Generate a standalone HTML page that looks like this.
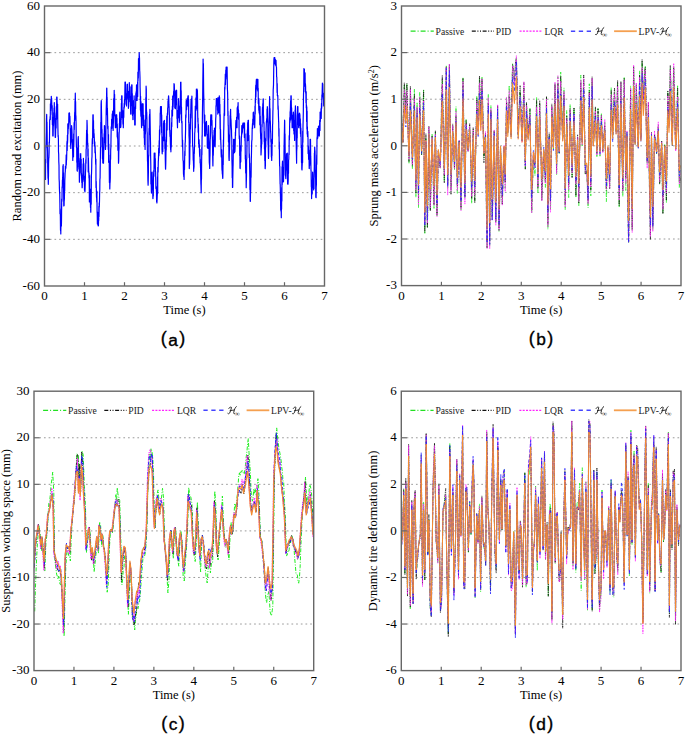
<!DOCTYPE html>
<html><head><meta charset="utf-8"><style>
html,body{margin:0;padding:0;background:#fff;width:685px;height:734px;overflow:hidden}
svg{display:block}
.tk{font-family:"Liberation Serif",serif;font-size:12.5px;fill:#000}
.tn{font-size:13px}
.lg{font-family:"Liberation Serif",serif;font-size:9.6px;fill:#222}
.lab{font-family:"Liberation Sans",sans-serif;font-size:18px;fill:#000;stroke:#000;stroke-width:0.35px;letter-spacing:1.4px}
</style></head><body>
<svg width="685" height="734" viewBox="0 0 685 734">
<line x1="49.80" y1="239.33" x2="324.50" y2="239.33" stroke="#9a9a9a" stroke-width="1" stroke-dasharray="1.7 2.97"/>
<line x1="49.80" y1="192.67" x2="324.50" y2="192.67" stroke="#9a9a9a" stroke-width="1" stroke-dasharray="1.7 2.97"/>
<line x1="49.80" y1="146.00" x2="324.50" y2="146.00" stroke="#9a9a9a" stroke-width="1" stroke-dasharray="1.7 2.97"/>
<line x1="49.80" y1="99.33" x2="324.50" y2="99.33" stroke="#9a9a9a" stroke-width="1" stroke-dasharray="1.7 2.97"/>
<line x1="49.80" y1="52.67" x2="324.50" y2="52.67" stroke="#9a9a9a" stroke-width="1" stroke-dasharray="1.7 2.97"/>
<line x1="406.80" y1="239.00" x2="681.00" y2="239.00" stroke="#9a9a9a" stroke-width="1" stroke-dasharray="1.7 2.97"/>
<line x1="406.80" y1="192.40" x2="681.00" y2="192.40" stroke="#9a9a9a" stroke-width="1" stroke-dasharray="1.7 2.97"/>
<line x1="406.80" y1="145.80" x2="681.00" y2="145.80" stroke="#9a9a9a" stroke-width="1" stroke-dasharray="1.7 2.97"/>
<line x1="406.80" y1="99.20" x2="681.00" y2="99.20" stroke="#9a9a9a" stroke-width="1" stroke-dasharray="1.7 2.97"/>
<line x1="406.80" y1="52.60" x2="681.00" y2="52.60" stroke="#9a9a9a" stroke-width="1" stroke-dasharray="1.7 2.97"/>
<line x1="39.30" y1="624.03" x2="313.70" y2="624.03" stroke="#9a9a9a" stroke-width="1" stroke-dasharray="1.7 2.97"/>
<line x1="39.30" y1="577.47" x2="313.70" y2="577.47" stroke="#9a9a9a" stroke-width="1" stroke-dasharray="1.7 2.97"/>
<line x1="39.30" y1="530.90" x2="313.70" y2="530.90" stroke="#9a9a9a" stroke-width="1" stroke-dasharray="1.7 2.97"/>
<line x1="39.30" y1="484.33" x2="313.70" y2="484.33" stroke="#9a9a9a" stroke-width="1" stroke-dasharray="1.7 2.97"/>
<line x1="39.30" y1="437.77" x2="313.70" y2="437.77" stroke="#9a9a9a" stroke-width="1" stroke-dasharray="1.7 2.97"/>
<line x1="406.60" y1="624.03" x2="681.00" y2="624.03" stroke="#9a9a9a" stroke-width="1" stroke-dasharray="1.7 2.97"/>
<line x1="406.60" y1="577.47" x2="681.00" y2="577.47" stroke="#9a9a9a" stroke-width="1" stroke-dasharray="1.7 2.97"/>
<line x1="406.60" y1="530.90" x2="681.00" y2="530.90" stroke="#9a9a9a" stroke-width="1" stroke-dasharray="1.7 2.97"/>
<line x1="406.60" y1="484.33" x2="681.00" y2="484.33" stroke="#9a9a9a" stroke-width="1" stroke-dasharray="1.7 2.97"/>
<line x1="406.60" y1="437.77" x2="681.00" y2="437.77" stroke="#9a9a9a" stroke-width="1" stroke-dasharray="1.7 2.97"/>
<defs><clipPath id="cpa"><rect x="44.5" y="6.0" width="280.0" height="280.0"/></clipPath><clipPath id="cpb"><rect x="401.5" y="6.0" width="279.5" height="279.6"/></clipPath><clipPath id="cpc"><rect x="34.0" y="391.2" width="279.7" height="279.40000000000003"/></clipPath><clipPath id="cpd"><rect x="401.3" y="391.2" width="279.7" height="279.40000000000003"/></clipPath></defs>
<g clip-path="url(#cpa)"><polyline points="44.0,154.2 44.1,163.4 44.3,162.8 44.4,158.2 44.6,164.9 44.7,164.8 44.9,174.1 45.0,171.0 45.2,179.5 45.3,167.3 45.5,179.5 45.6,159.3 45.8,163.1 45.9,147.4 46.1,142.4 46.2,138.5 46.4,131.8 46.5,119.3 46.7,114.4 46.8,123.1 47.0,122.0 47.1,130.4 47.3,147.7 47.4,146.6 47.6,151.9 47.7,166.4 47.9,173.5 48.0,178.2 48.2,176.0 48.3,184.3 48.5,174.4 48.6,163.0 48.8,157.7 48.9,158.1 49.1,152.3 49.2,142.2 49.4,143.1 49.5,137.9 49.7,119.6 49.8,119.6 50.0,119.6 50.1,116.6 50.3,119.6 50.4,103.9 50.6,110.6 50.7,104.3 50.9,99.5 51.0,107.9 51.2,103.8 51.3,96.3 51.5,107.1 51.6,98.0 51.8,104.4 51.9,106.6 52.1,114.4 52.2,105.7 52.4,124.8 52.5,123.0 52.7,117.7 52.8,135.9 53.0,131.3 53.1,135.9 53.3,123.5 53.4,126.0 53.6,122.0 53.7,112.7 53.9,118.9 54.0,108.1 54.2,110.6 54.3,102.6 54.5,115.0 54.6,112.7 54.8,116.0 54.9,125.0 55.1,130.8 55.2,137.3 55.4,124.3 55.5,137.3 55.7,129.2 55.8,126.8 56.0,118.3 56.1,128.1 56.3,106.7 56.4,119.5 56.6,113.1 56.7,97.1 56.9,104.6 57.0,97.1 57.2,106.1 57.3,112.5 57.5,119.1 57.6,104.0 57.8,122.6 57.9,128.1 58.1,136.8 58.2,135.1 58.4,138.9 58.5,151.8 58.7,154.3 58.8,161.6 59.0,165.3 59.1,178.7 59.3,182.2 59.4,188.0 59.6,193.3 59.7,192.6 59.9,203.2 60.0,213.7 60.2,208.8 60.3,210.8 60.5,230.2 60.6,224.7 60.8,234.0 60.9,227.1 61.1,225.6 61.2,214.5 61.4,226.0 61.5,220.8 61.7,199.1 61.8,201.8 62.0,200.1 62.1,186.8 62.3,188.1 62.4,180.4 62.6,179.3 62.7,177.4 62.9,166.0 63.0,168.2 63.2,164.7 63.3,180.2 63.5,172.9 63.6,190.5 63.8,205.9 63.9,199.4 64.1,205.6 64.2,197.9 64.4,199.9 64.5,191.5 64.7,190.8 64.8,180.4 65.0,176.6 65.1,172.9 65.3,171.2 65.4,166.0 65.6,168.9 65.7,167.9 65.9,167.9 66.0,162.9 66.2,154.9 66.3,165.1 66.5,158.1 66.6,160.0 66.8,151.4 66.9,143.5 67.1,141.0 67.2,150.4 67.4,135.2 67.5,143.1 67.7,139.1 67.8,123.9 68.0,133.9 68.1,128.2 68.3,128.9 68.4,126.4 68.6,123.8 68.7,122.9 68.9,113.2 69.0,122.1 69.2,113.9 69.3,119.9 69.5,112.9 69.6,119.4 69.8,116.1 69.9,116.5 70.1,123.7 70.2,128.8 70.4,133.2 70.5,142.0 70.7,145.9 70.8,148.5 71.0,141.5 71.1,143.0 71.3,128.6 71.4,141.2 71.6,125.7 71.7,126.7 71.9,129.3 72.0,131.9 72.2,141.4 72.3,139.6 72.5,144.2 72.6,149.7 72.8,160.4 72.9,155.1 73.1,149.9 73.2,153.1 73.4,139.3 73.5,156.8 73.7,133.9 73.8,145.1 74.0,133.9 74.1,122.5 74.3,129.5 74.4,123.8 74.6,117.1 74.7,112.5 74.9,111.5 75.0,101.6 75.2,100.2 75.3,93.2 75.5,104.9 75.6,101.5 75.8,120.6 75.9,115.6 76.1,123.8 76.2,136.6 76.4,146.6 76.5,147.3 76.7,148.0 76.8,162.2 77.0,159.2 77.1,170.4 77.3,171.2 77.4,154.7 77.6,167.0 77.7,149.2 77.9,151.2 78.0,139.7 78.2,137.2 78.3,136.6 78.5,149.6 78.6,156.6 78.8,153.7 78.9,168.9 79.1,164.4 79.2,166.4 79.4,182.2 79.5,179.3 79.7,173.3 79.8,175.2 80.0,171.6 80.1,161.6 80.3,158.3 80.4,161.7 80.6,156.2 80.7,153.5 80.9,162.2 81.0,166.8 81.2,159.3 81.3,172.9 81.5,173.7 81.6,177.3 81.8,182.6 81.9,178.3 82.1,187.7 82.2,187.7 82.4,182.4 82.5,175.2 82.7,180.0 82.8,177.2 83.0,169.7 83.1,163.8 83.3,172.5 83.4,158.4 83.6,168.2 83.7,163.0 83.9,164.7 84.0,181.6 84.2,175.9 84.3,176.1 84.5,190.3 84.6,184.9 84.8,185.2 84.9,191.9 85.1,188.6 85.2,184.6 85.4,176.7 85.5,172.1 85.7,168.9 85.8,159.7 86.0,163.2 86.1,149.5 86.3,148.6 86.4,143.2 86.6,130.3 86.7,130.2 86.9,134.5 87.0,120.3 87.2,125.7 87.3,133.8 87.5,133.8 87.6,144.9 87.8,143.1 87.9,155.9 88.1,148.8 88.2,171.9 88.4,157.9 88.5,162.4 88.7,171.6 88.8,171.4 89.0,178.3 89.1,173.2 89.3,187.2 89.4,201.9 89.6,175.5 89.7,198.0 89.9,189.5 90.0,199.2 90.2,189.1 90.3,200.2 90.5,207.6 90.6,205.9 90.8,212.2 90.9,199.8 91.1,202.6 91.2,204.2 91.4,174.1 91.5,174.4 91.7,167.6 91.8,159.3 92.0,156.8 92.1,146.1 92.3,138.6 92.4,139.1 92.6,143.7 92.7,127.7 92.9,114.8 93.0,121.0 93.2,114.8 93.3,126.8 93.5,120.6 93.6,137.3 93.8,129.3 93.9,136.0 94.1,133.5 94.2,136.5 94.4,139.9 94.5,145.9 94.7,142.3 94.8,141.9 95.0,152.8 95.1,145.7 95.3,151.5 95.4,152.3 95.6,160.4 95.7,164.2 95.9,159.2 96.0,187.6 96.2,181.4 96.3,187.1 96.5,197.2 96.6,195.9 96.8,201.9 96.9,191.0 97.1,212.3 97.2,213.4 97.4,224.1 97.5,223.9 97.7,223.5 97.8,212.3 98.0,213.2 98.1,225.8 98.3,221.1 98.4,225.8 98.6,219.3 98.7,220.8 98.9,206.3 99.0,216.6 99.2,202.8 99.3,207.0 99.5,200.6 99.6,193.7 99.8,189.6 99.9,179.7 100.1,177.7 100.2,167.4 100.4,156.5 100.5,147.0 100.7,147.1 100.8,122.4 101.0,122.3 101.1,104.0 101.3,100.5 101.4,107.1 101.6,118.3 101.7,123.9 101.9,132.9 102.0,129.3 102.2,143.6 102.3,148.6 102.5,159.1 102.6,137.7 102.8,162.9 102.9,150.5 103.1,163.0 103.2,156.0 103.4,163.2 103.5,163.2 103.7,151.6 103.8,150.0 104.0,143.6 104.1,133.7 104.3,137.3 104.4,125.7 104.6,126.0 104.7,132.9 104.9,133.4 105.0,142.3 105.2,139.0 105.3,142.1 105.5,149.5 105.6,146.4 105.8,142.1 105.9,129.0 106.1,119.1 106.2,110.0 106.4,102.8 106.5,100.2 106.7,88.2 106.8,88.1 107.0,102.7 107.1,97.3 107.3,114.7 107.4,108.2 107.6,117.9 107.7,128.3 107.9,129.1 108.0,126.1 108.2,144.6 108.3,149.6 108.5,134.6 108.6,162.3 108.8,144.0 108.9,158.5 109.1,161.4 109.2,161.3 109.4,182.4 109.5,177.3 109.7,180.5 109.8,188.9 110.0,181.4 110.1,182.4 110.3,177.4 110.4,155.1 110.6,159.4 110.7,149.6 110.9,147.0 111.0,139.2 111.2,127.4 111.3,126.5 111.5,128.6 111.6,119.5 111.8,119.2 111.9,122.1 112.1,119.8 112.2,113.9 112.4,116.8 112.5,122.6 112.7,111.2 112.8,128.2 113.0,119.3 113.1,130.5 113.3,124.0 113.4,122.7 113.6,114.2 113.7,98.6 113.9,113.6 114.0,104.9 114.2,90.3 114.3,98.6 114.5,99.2 114.6,94.4 114.8,115.6 114.9,116.0 115.1,117.0 115.2,122.0 115.4,127.7 115.5,115.8 115.7,127.7 115.8,125.7 116.0,114.8 116.1,127.2 116.3,114.8 116.4,114.8 116.6,120.7 116.7,114.8 116.9,127.2 117.0,118.4 117.2,136.7 117.3,124.1 117.5,138.3 117.6,132.1 117.8,141.0 117.9,150.3 118.1,146.9 118.2,150.5 118.4,150.0 118.5,163.2 118.7,160.8 118.8,151.8 119.0,148.8 119.1,134.2 119.3,130.6 119.4,123.5 119.6,122.8 119.7,113.4 119.9,112.1 120.0,122.1 120.2,120.6 120.3,120.8 120.5,127.6 120.6,120.9 120.8,127.1 120.9,125.7 121.1,118.6 121.2,119.8 121.4,103.3 121.5,117.5 121.7,95.8 121.8,101.3 122.0,95.8 122.1,109.0 122.3,110.9 122.4,114.9 122.6,117.9 122.7,110.5 122.9,123.1 123.0,124.1 123.2,120.2 123.3,127.7 123.5,117.6 123.6,117.9 123.8,117.2 123.9,107.2 124.1,108.2 124.2,103.4 124.4,107.0 124.5,99.5 124.7,98.4 124.8,96.1 125.0,82.1 125.1,85.0 125.3,85.7 125.4,82.1 125.6,91.3 125.7,99.2 125.9,100.7 126.0,104.2 126.2,101.8 126.3,103.2 126.5,105.9 126.6,93.6 126.8,98.1 126.9,97.0 127.1,84.8 127.2,84.3 127.4,84.2 127.5,89.8 127.7,91.7 127.8,94.0 128.0,99.8 128.1,91.4 128.3,103.2 128.4,108.3 128.6,99.6 128.7,96.7 128.9,93.8 129.0,91.7 129.2,91.5 129.3,82.6 129.5,87.7 129.6,92.8 129.8,86.2 129.9,101.7 130.1,96.4 130.2,97.2 130.4,107.0 130.5,105.2 130.7,114.1 130.8,100.0 131.0,114.1 131.1,99.5 131.3,87.1 131.4,100.9 131.6,94.0 131.7,84.9 131.9,98.0 132.0,84.9 132.2,105.7 132.3,93.5 132.5,115.4 132.6,101.6 132.8,109.2 132.9,119.6 133.1,119.6 133.2,103.4 133.4,114.0 133.5,102.0 133.7,100.4 133.8,101.5 134.0,105.7 134.1,95.8 134.3,112.7 134.4,109.2 134.6,107.0 134.7,125.0 134.9,125.0 135.0,115.6 135.2,125.0 135.3,107.8 135.5,107.7 135.6,108.7 135.8,94.6 135.9,93.4 136.1,92.6 136.2,91.5 136.4,92.6 136.5,84.9 136.7,88.8 136.8,100.5 137.0,89.5 137.1,100.5 137.3,89.8 137.4,94.8 137.6,82.1 137.7,96.4 137.9,72.2 138.0,81.1 138.2,72.0 138.3,77.9 138.5,58.5 138.6,69.5 138.8,60.6 138.9,64.2 139.1,58.8 139.2,52.6 139.4,56.8 139.5,58.1 139.7,70.7 139.8,71.8 140.0,77.5 140.1,87.3 140.3,94.3 140.4,109.9 140.6,96.3 140.7,111.0 140.9,116.2 141.0,101.7 141.2,114.4 141.3,117.3 141.5,126.8 141.6,127.7 141.8,119.0 141.9,125.8 142.1,111.7 142.2,103.9 142.4,103.9 142.5,114.7 142.7,103.9 142.8,103.9 143.0,118.6 143.1,103.9 143.3,125.5 143.4,121.2 143.6,115.2 143.7,119.3 143.9,130.8 144.0,120.0 144.2,138.1 144.3,125.7 144.5,144.4 144.6,137.2 144.8,141.6 144.9,141.7 145.1,149.5 145.2,129.0 145.4,134.0 145.5,119.5 145.7,118.9 145.8,97.7 146.0,109.2 146.1,86.2 146.3,89.9 146.4,108.6 146.6,112.8 146.7,112.1 146.9,119.1 147.0,131.0 147.2,133.0 147.3,145.0 147.5,161.2 147.6,160.8 147.8,171.6 147.9,180.2 148.1,185.2 148.2,182.3 148.4,172.1 148.5,158.4 148.7,154.7 148.8,156.1 149.0,134.0 149.1,128.3 149.3,134.5 149.4,117.2 149.6,114.4 149.7,120.2 149.9,109.4 150.0,114.4 150.2,126.4 150.3,134.0 150.5,142.5 150.6,154.8 150.8,164.4 150.9,184.1 151.1,180.2 151.2,184.3 151.4,193.1 151.5,174.0 151.7,189.2 151.8,179.6 152.0,173.5 152.1,172.1 152.3,181.7 152.4,182.8 152.6,190.1 152.7,189.0 152.9,198.6 153.0,198.6 153.2,183.8 153.3,195.9 153.5,178.0 153.6,174.6 153.8,170.4 153.9,176.2 154.1,163.0 154.2,153.0 154.4,163.1 154.5,155.1 154.7,156.1 154.8,153.0 155.0,153.0 155.1,168.3 155.3,158.6 155.4,171.6 155.6,171.6 155.7,177.3 155.9,188.6 156.0,187.7 156.2,186.5 156.3,188.7 156.5,193.4 156.6,201.8 156.8,197.4 156.9,202.9 157.1,200.0 157.2,196.7 157.4,193.0 157.5,176.8 157.7,193.2 157.8,167.3 158.0,171.4 158.1,172.0 158.3,161.1 158.4,160.8 158.6,154.1 158.7,148.2 158.9,155.6 159.0,154.0 159.2,140.5 159.3,152.7 159.5,129.8 159.6,135.1 159.8,133.4 159.9,125.8 160.1,126.5 160.2,113.3 160.4,112.4 160.5,106.7 160.7,110.4 160.8,107.8 161.0,106.7 161.1,113.5 161.3,106.7 161.4,106.7 161.6,132.4 161.7,114.9 161.9,131.7 162.0,149.4 162.2,153.8 162.3,145.4 162.5,145.1 162.6,143.9 162.8,151.4 162.9,137.5 163.1,136.9 163.2,137.4 163.4,140.0 163.5,123.1 163.7,132.3 163.8,121.0 164.0,140.7 164.1,128.4 164.3,126.3 164.4,120.3 164.6,132.8 164.7,123.3 164.9,148.4 165.0,139.7 165.2,152.7 165.3,160.1 165.5,168.4 165.6,169.2 165.8,163.0 165.9,155.9 166.1,145.4 166.2,150.3 166.4,137.0 166.5,141.5 166.7,122.9 166.8,116.1 167.0,125.5 167.1,130.1 167.3,115.2 167.4,113.1 167.6,114.6 167.7,107.9 167.9,107.8 168.0,100.8 168.2,104.5 168.3,101.5 168.5,96.4 168.6,95.8 168.8,99.3 168.9,104.9 169.1,106.8 169.2,111.1 169.4,115.2 169.5,129.7 169.7,118.1 169.8,132.4 170.0,136.4 170.1,130.1 170.3,138.4 170.4,143.7 170.6,149.5 170.7,145.1 170.9,151.8 171.0,148.4 171.2,138.1 171.3,147.0 171.5,129.8 171.6,122.5 171.8,126.5 171.9,110.2 172.1,114.1 172.2,113.7 172.4,106.0 172.5,115.9 172.7,96.1 172.8,109.5 173.0,102.5 173.1,106.7 173.3,99.3 173.4,95.9 173.6,93.6 173.7,91.0 173.9,95.1 174.0,83.5 174.2,90.0 174.3,84.4 174.5,92.1 174.6,91.0 174.8,107.9 174.9,91.6 175.1,107.1 175.2,105.5 175.4,108.7 175.5,105.5 175.7,104.0 175.8,104.2 176.0,90.3 176.1,99.2 176.3,90.3 176.4,96.4 176.6,90.3 176.7,100.2 176.9,107.2 177.0,118.5 177.2,116.7 177.3,122.8 177.5,127.7 177.6,116.1 177.8,112.1 177.9,116.8 178.1,110.4 178.2,115.3 178.4,112.6 178.5,98.5 178.7,117.8 178.8,105.7 179.0,111.1 179.1,110.8 179.3,122.3 179.4,112.1 179.6,118.8 179.7,120.4 179.9,106.9 180.0,114.2 180.2,101.0 180.3,101.1 180.5,93.9 180.6,82.3 180.8,92.6 180.9,82.1 181.1,103.7 181.2,90.7 181.4,114.1 181.5,107.2 181.7,122.7 181.8,121.4 182.0,121.4 182.1,133.1 182.3,140.7 182.4,146.7 182.6,140.1 182.7,145.8 182.9,156.1 183.0,160.5 183.2,160.6 183.3,163.4 183.5,174.3 183.6,174.2 183.8,176.8 183.9,171.0 184.1,179.5 184.2,170.2 184.4,161.0 184.5,169.4 184.7,155.3 184.8,151.2 185.0,155.5 185.1,143.7 185.3,141.7 185.4,136.9 185.6,129.0 185.7,114.9 185.9,117.6 186.0,116.1 186.2,100.5 186.3,106.9 186.5,104.7 186.6,109.7 186.8,105.9 186.9,104.4 187.1,98.5 187.2,105.3 187.4,99.8 187.5,98.0 187.7,105.8 187.8,97.8 188.0,95.8 188.1,105.3 188.3,95.8 188.4,103.9 188.6,99.4 188.7,122.4 188.9,122.2 189.0,135.8 189.2,139.3 189.3,168.6 189.5,161.0 189.6,164.5 189.8,157.6 189.9,144.2 190.1,142.8 190.2,124.0 190.4,129.3 190.5,114.2 190.7,118.0 190.8,110.7 191.0,102.1 191.1,99.5 191.3,101.1 191.4,105.6 191.6,98.5 191.7,101.9 191.9,96.2 192.0,105.1 192.2,121.8 192.3,126.6 192.5,133.3 192.6,145.4 192.8,147.2 192.9,146.9 193.1,152.7 193.2,159.7 193.4,160.8 193.5,163.8 193.7,171.3 193.8,164.2 194.0,167.9 194.1,152.7 194.3,153.6 194.4,149.3 194.6,142.8 194.7,133.4 194.9,131.5 195.0,124.1 195.2,112.7 195.3,106.1 195.5,127.7 195.6,110.3 195.8,110.5 195.9,97.8 196.1,101.4 196.2,110.0 196.4,89.0 196.5,103.2 196.7,98.2 196.8,93.7 197.0,95.6 197.1,89.0 197.3,108.4 197.4,90.4 197.6,103.0 197.7,113.2 197.9,122.0 198.0,118.1 198.2,132.3 198.3,124.1 198.5,128.4 198.6,143.8 198.8,142.7 198.9,147.2 199.1,139.7 199.2,143.3 199.4,145.4 199.5,152.1 199.7,156.1 199.8,156.7 200.0,149.4 200.1,163.1 200.3,159.3 200.4,164.9 200.6,168.8 200.7,174.1 200.9,183.7 201.0,185.2 201.2,192.8 201.3,180.4 201.5,179.0 201.6,164.3 201.8,147.6 201.9,154.7 202.1,135.5 202.2,136.6 202.4,116.2 202.5,108.0 202.7,95.7 202.8,82.3 203.0,68.4 203.1,59.0 203.3,81.3 203.4,63.6 203.6,87.6 203.7,93.7 203.9,100.7 204.0,109.6 204.2,117.8 204.3,123.3 204.5,120.2 204.6,135.9 204.8,115.1 204.9,134.2 205.1,127.3 205.2,132.8 205.4,135.4 205.5,135.9 205.7,122.9 205.8,125.7 206.0,128.6 206.1,123.4 206.3,129.4 206.4,121.4 206.6,124.7 206.7,126.4 206.9,134.2 207.0,134.9 207.2,134.4 207.3,147.3 207.5,146.4 207.6,144.9 207.8,140.3 207.9,148.5 208.1,136.1 208.2,138.1 208.4,125.7 208.5,125.7 208.7,131.8 208.8,139.6 209.0,142.5 209.1,151.0 209.3,162.3 209.4,163.4 209.6,165.4 209.7,168.5 209.9,157.7 210.0,155.2 210.2,138.4 210.3,139.0 210.5,132.1 210.6,120.5 210.8,114.8 210.9,114.8 211.1,117.0 211.2,117.8 211.4,119.3 211.5,114.8 211.7,114.8 211.8,125.4 212.0,120.4 212.1,132.4 212.3,136.6 212.4,137.6 212.6,150.2 212.7,157.5 212.9,165.9 213.0,159.4 213.2,140.7 213.3,155.2 213.5,145.0 213.6,146.5 213.8,135.6 213.9,141.5 214.1,130.3 214.2,136.5 214.4,135.7 214.5,128.0 214.7,145.9 214.8,141.2 215.0,141.1 215.1,146.8 215.3,139.0 215.4,130.0 215.6,126.9 215.7,119.0 215.9,116.2 216.0,105.7 216.2,106.4 216.3,98.5 216.5,104.5 216.6,98.5 216.8,102.2 216.9,102.4 217.1,99.3 217.2,99.3 217.4,101.2 217.5,110.3 217.7,98.5 217.8,114.1 218.0,97.6 218.1,112.1 218.3,112.1 218.4,107.9 218.6,112.7 218.7,110.2 218.9,98.4 219.0,105.6 219.2,98.1 219.3,95.8 219.5,100.0 219.6,97.4 219.8,116.0 219.9,104.3 220.1,128.7 220.2,114.6 220.4,139.4 220.5,129.3 220.7,138.7 220.8,142.0 221.0,146.4 221.1,152.4 221.3,156.9 221.4,150.0 221.6,153.5 221.7,149.8 221.9,167.0 222.0,170.0 222.2,171.1 222.3,173.6 222.5,174.5 222.6,176.8 222.8,178.3 222.9,173.7 223.1,154.8 223.2,164.8 223.4,139.9 223.5,146.4 223.7,131.4 223.8,128.9 224.0,118.1 224.1,114.0 224.3,112.4 224.4,100.9 224.6,115.3 224.7,87.3 224.9,89.4 225.0,84.3 225.2,80.9 225.3,74.0 225.5,84.4 225.6,79.9 225.8,70.0 225.9,78.9 226.1,67.2 226.2,76.2 226.4,73.3 226.5,73.8 226.7,72.0 226.8,67.2 227.0,74.8 227.1,67.2 227.3,82.2 227.4,88.7 227.6,92.3 227.7,97.3 227.9,116.1 228.0,111.2 228.2,125.4 228.3,126.4 228.5,142.0 228.6,137.0 228.8,134.9 228.9,157.0 229.1,160.4 229.2,160.4 229.4,149.0 229.5,150.0 229.7,142.3 229.8,137.9 230.0,125.9 230.1,115.6 230.3,119.5 230.4,112.2 230.6,109.4 230.7,116.9 230.9,119.2 231.0,120.1 231.2,125.5 231.3,127.8 231.5,130.1 231.6,135.6 231.8,138.8 231.9,158.9 232.1,166.3 232.2,177.8 232.4,174.7 232.5,187.5 232.7,187.3 232.8,178.6 233.0,167.7 233.1,165.0 233.3,149.8 233.4,153.7 233.6,139.4 233.7,143.4 233.9,142.2 234.0,143.6 234.2,139.4 234.3,148.9 234.5,152.7 234.6,151.9 234.8,150.8 234.9,151.4 235.1,147.2 235.2,144.4 235.4,132.0 235.5,135.8 235.7,127.3 235.8,123.2 236.0,120.3 236.1,127.0 236.3,120.3 236.4,127.7 236.6,117.2 236.7,123.2 236.9,118.9 237.0,127.7 237.2,107.8 237.3,116.9 237.5,106.8 237.6,110.7 237.8,106.1 237.9,110.2 238.1,102.6 238.2,112.4 238.4,118.5 238.5,109.9 238.7,119.5 238.8,116.6 239.0,113.5 239.1,132.7 239.3,138.7 239.4,135.9 239.6,138.0 239.7,155.6 239.9,155.5 240.0,168.0 240.2,168.6 240.3,161.2 240.5,162.6 240.6,145.8 240.8,161.8 240.9,145.5 241.1,151.3 241.2,143.6 241.4,136.2 241.5,137.1 241.7,130.5 241.8,125.7 242.0,134.0 242.1,129.0 242.3,125.7 242.4,132.2 242.6,124.5 242.7,129.0 242.9,123.0 243.0,123.0 243.2,127.7 243.3,125.5 243.5,124.1 243.6,123.0 243.8,123.6 243.9,123.6 244.1,123.1 244.2,123.0 244.4,137.5 244.5,123.0 244.7,137.0 244.8,134.2 245.0,141.3 245.1,133.9 245.3,158.9 245.4,155.0 245.6,166.1 245.7,173.1 245.9,168.9 246.0,167.8 246.2,187.7 246.3,182.3 246.5,175.8 246.6,159.9 246.8,158.5 246.9,151.0 247.1,133.6 247.2,136.3 247.4,129.9 247.5,140.7 247.7,122.6 247.8,138.3 248.0,121.6 248.1,120.3 248.3,135.8 248.4,120.3 248.6,136.9 248.7,140.6 248.9,135.3 249.0,141.3 249.2,157.6 249.3,153.5 249.5,156.8 249.6,166.1 249.8,176.3 249.9,189.5 250.1,188.5 250.2,201.3 250.4,201.3 250.5,193.5 250.7,189.8 250.8,182.3 251.0,163.2 251.1,177.2 251.3,159.2 251.4,157.0 251.6,146.6 251.7,141.9 251.9,139.9 252.0,139.8 252.2,127.8 252.3,128.1 252.5,123.6 252.6,128.5 252.8,119.1 252.9,121.0 253.1,125.0 253.2,112.5 253.4,119.5 253.5,112.1 253.7,119.7 253.8,115.8 254.0,120.3 254.1,117.9 254.3,118.7 254.4,124.6 254.6,124.0 254.7,127.7 254.9,120.0 255.0,106.1 255.2,114.0 255.3,98.5 255.5,102.6 255.6,89.4 255.8,85.0 255.9,96.9 256.1,87.8 256.2,82.1 256.4,79.4 256.5,85.2 256.7,79.4 256.8,83.6 257.0,85.5 257.1,88.5 257.3,79.4 257.4,90.1 257.6,83.5 257.7,79.4 257.9,79.4 258.0,91.4 258.2,88.2 258.3,103.5 258.5,98.0 258.6,102.2 258.8,110.3 258.9,98.6 259.1,112.5 259.2,105.9 259.4,114.1 259.5,109.4 259.7,106.7 259.8,124.8 260.0,106.7 260.1,123.7 260.3,116.0 260.4,130.6 260.6,134.6 260.7,138.7 260.9,139.2 261.0,155.0 261.2,151.3 261.3,148.5 261.5,146.2 261.6,133.9 261.8,144.0 261.9,124.6 262.1,126.7 262.2,120.0 262.4,110.6 262.5,107.3 262.7,109.8 262.8,103.7 263.0,105.3 263.1,99.0 263.3,98.9 263.4,113.8 263.6,116.2 263.7,122.9 263.9,123.7 264.0,122.5 264.2,141.7 264.3,131.4 264.5,148.9 264.6,137.9 264.8,160.8 264.9,150.7 265.1,168.6 265.2,168.6 265.4,165.1 265.5,147.8 265.7,146.9 265.8,138.7 266.0,140.7 266.1,129.4 266.3,124.1 266.4,121.2 266.6,120.6 266.7,118.6 266.9,121.9 267.0,109.2 267.2,113.0 267.3,106.7 267.5,108.5 267.6,116.1 267.8,121.1 267.9,136.6 268.1,145.0 268.2,144.8 268.4,155.1 268.5,158.4 268.7,153.1 268.8,139.2 269.0,137.0 269.1,124.7 269.3,117.3 269.4,109.7 269.6,96.5 269.7,102.7 269.9,115.2 270.0,108.5 270.2,122.7 270.3,120.7 270.5,126.3 270.6,131.4 270.8,133.7 270.9,141.9 271.1,140.3 271.2,146.5 271.4,157.0 271.5,150.8 271.7,160.4 271.8,155.5 272.0,155.5 272.1,139.2 272.3,140.6 272.4,143.6 272.6,124.4 272.7,124.1 272.9,111.3 273.0,109.4 273.2,89.6 273.3,88.6 273.5,84.9 273.6,77.8 273.8,64.0 273.9,60.1 274.1,57.6 274.2,59.8 274.4,57.6 274.5,57.6 274.7,63.7 274.8,57.6 275.0,62.5 275.1,61.0 275.3,59.3 275.4,65.1 275.6,60.3 275.7,63.2 275.9,60.3 276.0,60.3 276.2,65.6 276.3,66.8 276.5,67.4 276.6,76.5 276.8,77.3 276.9,82.1 277.1,92.6 277.2,83.6 277.4,95.8 277.5,95.1 277.7,96.3 277.8,95.4 278.0,109.2 278.1,105.7 278.3,110.2 278.4,114.8 278.6,121.1 278.7,122.4 278.9,136.2 279.0,128.6 279.2,149.0 279.3,141.9 279.5,158.8 279.6,165.8 279.8,166.5 279.9,173.5 280.1,184.1 280.2,184.3 280.4,191.9 280.5,196.7 280.7,210.0 280.8,205.3 281.0,211.2 281.1,205.4 281.3,217.7 281.4,201.6 281.6,208.9 281.7,187.5 281.9,200.9 282.0,166.8 282.2,184.5 282.3,164.8 282.5,161.2 282.6,169.4 282.8,176.8 282.9,177.0 283.1,167.7 283.2,181.9 283.4,177.6 283.5,181.4 283.7,172.4 283.8,175.3 284.0,152.4 284.1,146.7 284.3,135.3 284.4,131.7 284.6,120.2 284.7,121.3 284.9,144.3 285.0,133.9 285.2,153.7 285.3,161.0 285.5,175.9 285.6,171.2 285.8,178.6 285.9,176.3 286.1,168.0 286.2,168.1 286.4,161.8 286.5,154.7 286.7,153.6 286.8,154.1 287.0,154.6 287.1,169.9 287.3,153.2 287.4,172.5 287.6,184.0 287.7,181.7 287.9,182.6 288.0,184.1 288.2,180.7 288.3,167.6 288.5,173.2 288.6,160.2 288.8,159.1 288.9,153.5 289.1,154.6 289.2,135.7 289.4,139.7 289.5,135.9 289.7,120.6 289.8,117.6 290.0,122.2 290.1,111.9 290.3,111.3 290.4,109.3 290.6,100.8 290.7,120.0 290.9,95.8 291.0,100.6 291.2,95.8 291.3,103.5 291.5,113.6 291.6,107.8 291.8,118.8 291.9,114.8 292.1,127.7 292.2,122.8 292.4,119.5 292.5,127.7 292.7,116.5 292.8,123.5 293.0,115.7 293.1,116.8 293.3,113.1 293.4,112.1 293.6,114.2 293.7,130.8 293.9,123.9 294.0,134.0 294.2,131.5 294.3,129.9 294.5,134.3 294.6,140.4 294.8,120.2 294.9,123.5 295.1,110.0 295.2,113.2 295.4,105.9 295.5,107.1 295.7,115.0 295.8,120.1 296.0,129.4 296.1,139.5 296.3,148.2 296.4,153.4 296.6,163.2 296.7,151.2 296.9,148.2 297.0,134.8 297.2,138.1 297.3,116.0 297.5,111.4 297.6,106.7 297.8,113.8 297.9,106.7 298.1,124.2 298.2,113.5 298.4,114.0 298.5,123.9 298.7,127.7 298.8,117.8 299.0,120.1 299.1,125.7 299.3,124.8 299.4,121.1 299.6,113.2 299.7,116.3 299.9,114.5 300.0,122.3 300.2,128.2 300.3,118.8 300.5,133.8 300.6,123.7 300.8,136.6 300.9,128.1 301.1,138.8 301.2,147.8 301.4,145.0 301.5,162.4 301.7,155.6 301.8,168.8 302.0,170.0 302.1,167.0 302.3,162.8 302.4,160.3 302.6,162.5 302.7,131.2 302.9,142.2 303.0,126.5 303.2,118.2 303.3,113.7 303.5,95.0 303.6,91.8 303.8,84.9 303.9,68.5 304.1,77.0 304.2,72.1 304.4,69.1 304.5,79.8 304.7,76.8 304.8,76.6 305.0,86.6 305.1,72.9 305.3,91.7 305.4,83.5 305.6,86.3 305.7,93.3 305.9,93.3 306.0,102.8 306.2,91.7 306.3,107.7 306.5,105.2 306.6,121.6 306.8,106.8 306.9,128.9 307.1,111.2 307.2,133.9 307.4,126.8 307.5,136.4 307.7,131.4 307.8,131.3 308.0,137.6 308.1,153.6 308.3,145.9 308.4,147.4 308.6,159.3 308.7,150.0 308.9,157.4 309.0,155.7 309.2,168.6 309.3,168.6 309.5,157.2 309.6,165.4 309.8,160.3 309.9,162.8 310.1,139.4 310.2,152.9 310.4,142.6 310.5,139.4 310.7,156.4 310.8,158.2 311.0,171.1 311.1,170.4 311.3,186.7 311.4,186.1 311.6,198.6 311.7,192.2 311.9,188.5 312.0,180.1 312.2,194.0 312.3,181.0 312.5,180.4 312.6,172.1 312.8,175.3 312.9,186.0 313.1,180.8 313.2,178.5 313.4,187.6 313.5,188.1 313.7,189.9 313.8,183.2 314.0,188.8 314.1,173.8 314.3,166.4 314.4,153.0 314.6,153.9 314.7,147.0 314.9,150.3 315.0,151.0 315.2,170.2 315.3,169.8 315.5,177.6 315.6,176.3 315.8,197.0 315.9,197.4 316.1,197.7 316.2,187.4 316.4,184.2 316.5,165.8 316.7,154.9 316.8,164.2 317.0,137.7 317.1,138.8 317.3,135.2 317.4,128.6 317.6,138.6 317.7,130.6 317.9,137.3 318.0,129.6 318.2,130.6 318.3,133.2 318.5,126.0 318.6,129.7 318.8,131.7 318.9,126.5 319.1,135.7 319.2,131.8 319.4,135.9 319.5,128.6 319.7,120.3 319.8,130.3 320.0,130.4 320.1,112.1 320.3,121.8 320.4,119.7 320.6,112.3 320.7,117.5 320.9,116.9 321.0,108.7 321.2,118.5 321.3,113.6 321.5,103.3 321.6,108.4 321.8,105.8 321.9,94.8 322.1,96.5 322.2,91.1 322.4,83.1 322.5,89.8 322.7,86.0 322.8,83.8 323.0,95.4 323.1,95.6 323.3,98.4 323.4,93.2 323.6,103.8 323.7,105.9 323.9,101.8 324.0,105.9" fill="none" stroke="#0000ff" stroke-width="1.2" stroke-linejoin="round"/></g>
<g clip-path="url(#cpb)"><polyline points="401.0,106.8 401.6,114.4 402.3,129.4 402.9,141.9 403.6,111.6 404.3,84.3 405.0,95.6 405.8,111.7 406.9,83.9 407.6,111.8 408.3,134.7 409.0,163.2 409.7,122.5 410.4,93.8 411.1,116.8 411.7,137.4 412.4,168.9 413.1,140.1 413.7,112.3 414.4,89.0 415.1,144.0 415.9,197.2 417.1,102.1 417.8,153.2 418.5,207.5 419.7,92.1 420.3,110.6 421.0,132.3 421.6,154.7 422.3,130.6 423.0,111.3 423.6,89.9 424.8,233.3 425.9,138.6 426.6,185.8 427.4,227.2 428.1,184.6 428.9,129.6 429.6,168.0 430.3,210.2 431.2,177.9 432.1,134.1 432.7,159.1 433.3,184.6 434.0,208.4 434.7,172.3 435.4,131.5 436.2,175.8 437.0,216.5 437.7,186.9 438.3,153.1 439.0,158.7 439.7,165.2 440.3,166.6 441.0,139.2 441.6,102.3 442.3,80.4 443.0,111.5 443.6,147.9 444.3,181.4 445.0,138.7 445.7,104.0 446.3,65.9 447.0,126.0 447.7,188.4 448.6,124.4 449.4,66.0 450.2,121.9 451.0,187.8 451.9,155.1 452.7,127.4 453.6,146.7 454.5,169.8 455.3,141.3 456.0,106.5 456.7,151.6 457.3,194.0 458.0,179.9 458.6,159.8 459.2,141.0 459.8,161.6 460.4,185.3 461.0,210.5 461.7,166.9 462.4,117.2 463.0,77.2 463.6,113.9 464.2,160.8 464.9,197.7 465.5,163.5 466.1,119.5 466.8,135.5 467.4,138.8 468.1,151.8 468.9,137.9 469.7,125.6 470.4,143.5 471.1,170.2 471.7,203.5 472.5,163.5 473.2,130.7 474.0,166.6 474.8,200.9 475.4,167.8 476.1,131.3 476.8,96.0 477.5,111.6 478.2,126.6 478.9,102.4 479.5,78.3 480.2,100.9 480.8,122.3 482.0,76.5 482.6,105.8 483.3,130.0 483.9,157.9 484.7,140.9 485.5,132.9 486.3,201.6 487.1,247.8 487.7,184.4 488.3,94.1 489.0,184.4 489.7,245.8 490.9,105.4 491.6,166.9 492.2,219.9 492.9,198.3 493.6,164.5 494.2,130.5 495.0,184.3 495.8,222.4 496.7,165.7 497.6,105.9 498.3,176.9 499.0,231.3 499.8,193.9 500.5,145.7 501.1,166.0 501.7,183.5 502.3,203.5 503.2,177.1 504.1,147.7 505.2,188.3 505.9,140.7 506.5,97.9 507.2,114.1 507.8,131.9 508.5,112.0 509.2,85.4 509.8,101.7 510.5,118.7 511.1,134.1 511.9,89.1 512.6,63.6 513.5,71.9 514.4,80.0 515.0,72.7 515.7,62.8 516.4,57.7 517.3,88.9 518.2,135.3 518.8,117.5 519.5,104.5 520.1,90.4 520.8,102.2 521.4,116.7 522.1,139.5 522.7,119.1 523.3,104.6 523.9,88.3 524.6,126.9 525.3,168.5 526.5,103.5 527.3,124.0 528.1,134.0 528.7,128.0 529.4,118.1 530.0,108.0 530.8,164.6 531.7,213.3 532.5,184.8 533.4,158.4 534.2,163.0 535.0,175.8 535.8,130.6 536.6,97.4 537.3,142.5 537.9,192.7 538.8,146.9 539.7,102.9 540.4,133.9 541.1,160.9 541.8,198.6 542.5,182.5 543.1,168.2 543.8,151.0 544.6,165.9 545.4,187.4 546.5,97.5 547.2,163.8 547.9,229.4 548.5,184.6 549.2,136.6 549.8,176.1 550.5,209.6 551.2,154.9 551.8,108.1 552.6,122.1 553.4,149.0 554.2,114.7 555.0,83.3 555.8,124.2 556.6,174.8 557.2,122.7 557.9,76.7 558.6,108.2 559.2,154.1 560.0,108.1 560.7,72.1 561.3,89.8 562.0,115.5 562.7,138.3 563.3,109.8 564.0,87.9 565.2,209.8 565.9,162.5 566.7,110.4 567.4,140.6 568.1,168.4 568.7,197.6 569.4,150.0 570.1,104.4 570.8,128.8 571.4,154.7 572.1,176.9 572.7,152.3 573.4,130.4 574.0,108.0 574.7,136.1 575.3,167.0 575.9,197.8 576.8,167.7 577.6,137.0 578.2,172.8 578.8,205.6 579.5,160.1 580.1,115.6 580.8,75.0 581.5,102.9 582.2,145.8 583.0,107.1 583.7,79.1 584.5,125.7 585.3,174.3 586.0,170.4 586.7,171.4 587.4,187.6 588.1,207.9 589.3,83.8 590.1,140.0 590.8,195.9 591.5,130.7 592.1,80.3 592.7,106.8 593.3,145.1 594.0,134.6 594.7,119.5 595.4,109.3 596.1,130.8 596.9,156.6 598.0,108.4 598.7,123.7 599.4,135.6 600.0,156.2 600.7,130.9 601.4,113.0 602.1,133.0 602.8,151.9 603.5,141.6 604.1,134.1 604.8,122.3 605.6,161.0 606.4,201.6 607.2,171.3 607.9,149.5 608.5,163.3 609.1,173.6 609.7,186.0 610.5,140.2 611.2,87.7 611.9,107.2 612.7,135.4 613.3,113.3 613.9,101.3 614.5,95.6 615.3,109.7 616.1,129.6 616.8,114.4 617.6,83.5 618.4,145.8 619.2,207.5 620.0,147.0 620.9,81.6 621.5,118.6 622.1,155.7 622.8,196.3 623.5,133.8 624.2,76.9 625.0,126.3 625.8,190.5 626.4,157.6 627.0,131.9 627.8,204.6 628.6,242.2 629.3,208.6 629.9,146.2 630.6,85.8 631.4,164.9 632.2,230.9 632.9,149.4 633.6,66.2 634.4,95.3 635.1,140.4 636.3,88.3 637.0,103.9 637.6,126.4 638.3,146.4 639.0,111.1 639.6,70.9 640.3,100.0 640.9,136.6 642.1,61.1 642.7,77.8 643.3,94.3 644.0,86.9 644.6,72.2 645.3,66.4 645.9,93.5 646.5,132.8 647.2,164.1 648.4,107.9 649.0,155.9 649.7,199.7 650.4,234.0 651.5,132.9 652.2,187.2 652.8,229.3 653.7,183.7 654.5,133.9 655.2,140.6 655.9,143.5 656.6,153.8 657.4,138.0 658.3,131.2 658.9,155.3 659.6,184.2 660.3,171.2 661.0,154.6 661.7,143.3 662.3,183.0 662.9,213.6 663.8,176.5 664.7,144.3 665.6,176.7 666.4,203.0 667.1,144.9 667.8,91.3 669.0,122.3 669.7,87.0 670.3,68.4 671.0,87.3 671.6,118.7 672.3,143.6 673.0,99.2 673.7,66.7 674.3,87.0 675.0,118.2 675.7,147.9 676.4,131.0 677.0,108.0 677.6,85.8 678.5,137.5 679.3,187.4 679.9,176.7 680.5,178.7" fill="none" stroke="#22ee22" stroke-width="0.8" stroke-dasharray="4 1.5 1 1.5" stroke-linejoin="round"/><polyline points="401.0,107.2 401.6,115.3 402.3,131.4 402.9,142.4 403.6,111.9 404.3,82.7 405.0,94.8 405.8,109.7 406.9,83.4 407.6,109.3 408.3,135.1 409.0,161.7 409.7,126.4 410.4,86.0 411.1,114.6 411.7,140.2 412.4,166.1 413.1,139.8 413.7,118.1 414.4,94.1 415.1,148.5 415.9,193.1 417.1,107.7 417.8,155.7 418.5,197.5 419.7,97.4 420.3,118.1 421.0,137.7 421.6,154.8 422.3,129.9 423.0,110.4 423.6,90.6 424.8,232.3 425.9,133.6 426.6,187.7 427.4,227.8 428.1,184.3 428.9,126.2 429.6,172.2 430.3,211.1 431.2,173.2 432.1,135.7 432.7,156.8 433.3,181.6 434.0,205.0 434.7,170.0 435.4,130.8 436.2,176.9 437.0,215.2 437.7,182.6 438.3,150.5 439.0,158.4 439.7,167.3 440.3,167.9 441.0,137.7 441.6,98.7 442.3,75.3 443.0,109.6 443.6,150.1 444.3,182.7 445.0,141.7 445.7,102.6 446.3,66.5 447.0,124.8 447.7,185.0 448.6,126.0 449.4,64.1 450.2,121.8 451.0,194.7 451.9,156.5 452.7,123.9 453.6,147.4 454.5,168.9 455.3,144.3 456.0,115.6 456.7,152.0 457.3,186.4 458.0,172.7 458.6,160.4 459.2,140.3 459.8,159.5 460.4,179.3 461.0,207.4 461.7,165.2 462.4,119.7 463.0,78.6 463.6,114.5 464.2,161.0 464.9,197.3 465.5,161.0 466.1,119.9 466.8,132.0 467.4,144.2 468.1,150.9 468.9,133.5 469.7,123.7 470.4,147.0 471.1,176.2 471.7,198.9 472.5,161.5 473.2,127.7 474.0,164.5 474.8,203.0 475.4,161.1 476.1,133.8 476.8,98.4 477.5,115.1 478.2,129.6 478.9,107.5 479.5,75.8 480.2,95.1 480.8,117.8 482.0,78.5 482.6,98.5 483.3,128.0 483.9,162.7 484.7,146.1 485.5,133.2 486.3,198.0 487.1,247.5 487.7,180.2 488.3,103.2 489.0,178.5 489.7,241.5 490.9,110.1 491.6,166.5 492.2,217.2 492.9,187.3 493.6,165.6 494.2,130.9 495.0,179.0 495.8,221.9 496.7,166.3 497.6,105.4 498.3,171.5 499.0,229.7 499.8,191.3 500.5,146.6 501.1,165.1 501.7,189.2 502.3,204.2 503.2,172.0 504.1,146.0 505.2,182.2 505.9,142.4 506.5,101.9 507.2,116.9 507.8,132.8 508.5,110.4 509.2,96.1 509.8,105.4 510.5,118.7 511.1,136.6 511.9,91.4 512.6,64.5 513.5,69.2 514.4,82.3 515.0,70.7 515.7,59.8 516.4,59.2 517.3,93.9 518.2,134.2 518.8,117.3 519.5,100.0 520.1,85.7 520.8,100.9 521.4,123.0 522.1,140.7 522.7,121.4 523.3,104.3 523.9,82.6 524.6,123.2 525.3,169.2 526.5,102.2 527.3,121.2 528.1,136.9 528.7,124.4 529.4,120.0 530.0,109.2 530.8,163.0 531.7,210.5 532.5,183.1 533.4,158.1 534.2,164.4 535.0,164.4 535.8,136.7 536.6,100.1 537.3,145.0 537.9,189.0 538.8,144.2 539.7,100.5 540.4,130.4 541.1,162.0 541.8,200.3 542.5,183.6 543.1,167.9 543.8,152.5 544.6,167.9 545.4,181.6 546.5,96.2 547.2,168.1 547.9,224.1 548.5,187.3 549.2,132.8 549.8,175.3 550.5,202.2 551.2,154.6 551.8,103.9 552.6,124.5 553.4,146.0 554.2,116.0 555.0,83.7 555.8,126.3 556.6,171.7 557.2,131.8 557.9,82.8 558.6,116.5 559.2,153.2 560.0,113.1 560.7,76.0 561.3,100.2 562.0,115.8 562.7,137.2 563.3,114.9 564.0,93.5 565.2,205.2 565.9,157.8 566.7,115.7 567.4,137.7 568.1,162.5 568.7,187.4 569.4,147.7 570.1,108.4 570.8,131.6 571.4,151.4 572.1,177.6 572.7,154.8 573.4,127.2 574.0,107.5 574.7,137.6 575.3,165.5 575.9,195.8 576.8,165.6 577.6,134.4 578.2,168.8 578.8,203.0 579.5,158.6 580.1,120.0 580.8,83.3 581.5,111.8 582.2,141.8 583.0,111.6 583.7,74.5 584.5,123.9 585.3,174.4 586.0,170.8 586.7,171.4 587.4,182.8 588.1,202.2 589.3,90.5 590.1,137.4 590.8,190.4 591.5,137.1 592.1,76.7 592.7,112.6 593.3,145.9 594.0,137.1 594.7,125.8 595.4,106.9 596.1,131.7 596.9,154.2 598.0,108.4 598.7,122.5 599.4,139.2 600.0,151.4 600.7,134.1 601.4,115.2 602.1,132.5 602.8,151.3 603.5,140.7 604.1,133.0 604.8,125.2 605.6,160.6 606.4,190.4 607.2,172.9 607.9,147.1 608.5,163.0 609.1,176.3 609.7,188.6 610.5,137.9 611.2,90.1 611.9,111.3 612.7,134.7 613.3,116.6 613.9,100.3 614.5,87.8 615.3,108.2 616.1,131.9 616.8,110.6 617.6,80.3 618.4,145.3 619.2,205.8 620.0,141.5 620.9,81.8 621.5,116.6 622.1,158.2 622.8,191.2 623.5,134.2 624.2,78.2 625.0,128.9 625.8,178.9 626.4,158.7 627.0,135.1 627.8,199.7 628.6,242.2 629.3,203.7 629.9,146.3 630.6,89.5 631.4,164.1 632.2,228.7 632.9,146.9 633.6,66.5 634.4,98.7 635.1,144.8 636.3,84.2 637.0,105.6 637.6,124.9 638.3,147.5 639.0,111.0 639.6,74.8 640.3,104.5 640.9,139.3 642.1,59.4 642.7,80.3 643.3,99.3 644.0,87.8 644.6,71.5 645.3,67.3 645.9,90.7 646.5,134.0 647.2,161.4 648.4,102.1 649.0,154.2 649.7,206.6 650.4,239.8 651.5,132.2 652.2,185.7 652.8,225.8 653.7,185.4 654.5,134.6 655.2,144.0 655.9,143.5 656.6,153.5 657.4,140.3 658.3,125.4 658.9,154.5 659.6,184.2 660.3,171.8 661.0,153.5 661.7,141.0 662.3,180.6 662.9,213.9 663.8,179.1 664.7,145.1 665.6,172.3 666.4,200.5 667.1,145.5 667.8,90.5 669.0,124.4 669.7,96.9 670.3,65.6 671.0,88.4 671.6,120.6 672.3,145.6 673.0,98.8 673.7,67.8 674.3,87.4 675.0,121.0 675.7,149.5 676.4,132.8 677.0,111.7 677.6,87.8 678.5,133.9 679.3,181.3 679.9,182.7 680.5,178.2" fill="none" stroke="#111" stroke-width="0.7200000000000001" stroke-dasharray="3 1 1 1 1 1" stroke-linejoin="round"/><polyline points="401.0,101.3 401.6,116.7 402.3,130.0 402.9,141.3 403.6,124.2 404.3,89.7 405.0,100.9 405.8,115.1 406.9,90.6 407.6,112.6 408.3,138.5 409.0,159.1 409.7,126.3 410.4,89.1 411.1,117.8 411.7,139.8 412.4,164.7 413.1,140.9 413.7,123.6 414.4,98.8 415.1,146.6 415.9,189.8 417.1,106.9 417.8,155.1 418.5,205.0 419.7,97.3 420.3,116.2 421.0,134.5 421.6,148.9 422.3,132.8 423.0,116.0 423.6,100.5 424.8,224.6 425.9,140.7 426.6,177.4 427.4,223.0 428.1,179.3 428.9,127.1 429.6,171.0 430.3,207.9 431.2,178.7 432.1,137.5 432.7,156.8 433.3,181.8 434.0,204.9 434.7,168.7 435.4,134.1 436.2,170.5 437.0,216.5 437.7,185.1 438.3,151.8 439.0,158.2 439.7,161.7 440.3,167.7 441.0,145.1 441.6,106.8 442.3,84.0 443.0,118.0 443.6,148.9 444.3,174.9 445.0,140.8 445.7,106.5 446.3,67.3 447.0,125.1 447.7,195.1 448.6,118.6 449.4,64.1 450.2,122.3 451.0,190.6 451.9,156.2 452.7,125.8 453.6,146.4 454.5,168.0 455.3,142.0 456.0,111.1 456.7,152.3 457.3,190.8 458.0,175.2 458.6,157.9 459.2,140.4 459.8,160.8 460.4,185.2 461.0,210.5 461.7,163.2 462.4,123.2 463.0,81.2 463.6,116.0 464.2,159.9 464.9,204.1 465.5,164.3 466.1,124.1 466.8,129.9 467.4,142.5 468.1,151.9 468.9,140.6 469.7,126.3 470.4,146.3 471.1,166.7 471.7,196.6 472.5,163.3 473.2,130.2 474.0,163.9 474.8,195.2 475.4,162.8 476.1,135.1 476.8,101.4 477.5,114.3 478.2,130.3 478.9,105.8 479.5,83.3 480.2,108.3 480.8,129.4 482.0,78.7 482.6,105.4 483.3,132.9 483.9,152.8 484.7,144.4 485.5,131.6 486.3,201.2 487.1,248.6 487.7,180.7 488.3,97.8 489.0,177.9 489.7,248.8 490.9,108.1 491.6,166.1 492.2,220.3 492.9,199.6 493.6,163.1 494.2,129.8 495.0,183.9 495.8,225.2 496.7,170.9 497.6,104.4 498.3,179.4 499.0,230.5 499.8,197.1 500.5,146.5 501.1,170.3 501.7,185.2 502.3,205.1 503.2,173.2 504.1,145.4 505.2,191.6 505.9,141.3 506.5,97.2 507.2,110.3 507.8,130.2 508.5,107.1 509.2,90.7 509.8,104.0 510.5,124.1 511.1,133.4 511.9,101.7 512.6,65.7 513.5,69.4 514.4,85.0 515.0,76.1 515.7,63.9 516.4,55.7 517.3,91.7 518.2,134.0 518.8,120.0 519.5,110.3 520.1,98.7 520.8,105.0 521.4,121.7 522.1,142.4 522.7,116.0 523.3,103.7 523.9,81.8 524.6,129.8 525.3,166.3 526.5,105.5 527.3,122.9 528.1,135.5 528.7,129.0 529.4,117.7 530.0,114.6 530.8,163.3 531.7,213.1 532.5,179.7 533.4,152.2 534.2,161.0 535.0,167.0 535.8,136.5 536.6,106.8 537.3,146.2 537.9,187.0 538.8,145.7 539.7,105.2 540.4,132.7 541.1,162.5 541.8,200.7 542.5,179.6 543.1,166.9 543.8,152.2 544.6,166.4 545.4,183.7 546.5,99.2 547.2,162.8 547.9,226.7 548.5,186.8 549.2,137.6 549.8,178.7 550.5,212.2 551.2,158.7 551.8,106.7 552.6,127.4 553.4,147.8 554.2,118.3 555.0,82.0 555.8,128.3 556.6,174.0 557.2,124.3 557.9,75.7 558.6,116.3 559.2,152.2 560.0,116.6 560.7,81.1 561.3,103.8 562.0,120.3 562.7,138.8 563.3,116.6 564.0,91.1 565.2,207.0 565.9,159.0 566.7,118.6 567.4,140.5 568.1,163.6 568.7,189.9 569.4,149.6 570.1,109.9 570.8,134.6 571.4,154.2 572.1,172.9 572.7,154.6 573.4,132.7 574.0,114.4 574.7,136.6 575.3,165.9 575.9,184.2 576.8,162.7 577.6,137.3 578.2,167.5 578.8,201.0 579.5,161.1 580.1,119.8 580.8,80.1 581.5,109.2 582.2,145.0 583.0,109.5 583.7,78.4 584.5,122.6 585.3,173.0 586.0,172.6 586.7,175.3 587.4,185.6 588.1,204.2 589.3,92.9 590.1,141.3 590.8,187.2 591.5,136.1 592.1,78.3 592.7,112.8 593.3,145.6 594.0,134.6 594.7,121.4 595.4,111.1 596.1,131.9 596.9,155.3 598.0,115.1 598.7,127.3 599.4,138.0 600.0,154.5 600.7,132.9 601.4,115.7 602.1,132.8 602.8,152.9 603.5,141.8 604.1,134.5 604.8,119.4 605.6,159.9 606.4,188.7 607.2,169.3 607.9,147.5 608.5,160.5 609.1,173.6 609.7,187.6 610.5,138.0 611.2,94.8 611.9,114.8 612.7,133.0 613.3,122.0 613.9,106.4 614.5,94.0 615.3,111.3 616.1,126.4 616.8,108.3 617.6,86.1 618.4,143.2 619.2,200.4 620.0,142.4 620.9,82.7 621.5,117.2 622.1,158.1 622.8,191.1 623.5,134.0 624.2,79.9 625.0,124.8 625.8,183.3 626.4,153.1 627.0,130.5 627.8,197.7 628.6,242.0 629.3,202.5 629.9,146.5 630.6,87.9 631.4,167.9 632.2,232.4 632.9,148.8 633.6,64.9 634.4,101.9 635.1,142.5 636.3,82.5 637.0,107.9 637.6,127.5 638.3,147.1 639.0,115.5 639.6,77.0 640.3,104.8 640.9,138.4 642.1,67.8 642.7,86.4 643.3,100.2 644.0,85.2 644.6,74.7 645.3,70.5 645.9,94.3 646.5,130.4 647.2,168.3 648.4,102.0 649.0,152.5 649.7,201.2 650.4,236.4 651.5,132.8 652.2,184.4 652.8,231.5 653.7,183.1 654.5,130.5 655.2,141.4 655.9,149.8 656.6,151.3 657.4,139.4 658.3,121.9 658.9,153.6 659.6,181.5 660.3,170.9 661.0,151.7 661.7,142.3 662.3,174.1 662.9,209.4 663.8,178.5 664.7,147.7 665.6,168.7 666.4,193.0 667.1,147.6 667.8,95.4 669.0,126.6 669.7,95.9 670.3,69.4 671.0,96.5 671.6,122.9 672.3,141.7 673.0,100.4 673.7,63.2 674.3,92.2 675.0,124.1 675.7,151.3 676.4,131.6 677.0,109.6 677.6,96.6 678.5,135.6 679.3,184.1 679.9,177.7 680.5,172.9" fill="none" stroke="#ff22ff" stroke-width="0.8" stroke-dasharray="1.6 1" stroke-linejoin="round"/><polyline points="401.0,118.1 401.6,125.1 402.3,134.7 402.9,142.8 403.6,125.9 404.3,106.5 405.0,111.8 405.8,127.0 406.9,112.3 407.6,123.1 408.3,138.0 409.0,155.5 409.7,126.0 410.4,103.2 411.1,118.3 411.7,141.8 412.4,160.0 413.1,143.1 413.7,121.7 414.4,106.3 415.1,146.9 415.9,183.2 417.1,114.5 417.8,151.3 418.5,192.6 419.7,108.4 420.3,122.5 421.0,139.7 421.6,153.5 422.3,136.6 423.0,122.3 423.6,103.3 424.8,225.9 425.9,142.1 426.6,172.1 427.4,220.1 428.1,176.5 428.9,135.2 429.6,162.3 430.3,183.8 431.2,164.0 432.1,143.4 432.7,155.3 433.3,170.8 434.0,180.5 434.7,158.4 435.4,136.0 436.2,168.9 437.0,204.2 437.7,177.2 438.3,150.1 439.0,156.8 439.7,161.4 440.3,164.4 441.0,144.3 441.6,116.5 442.3,93.8 443.0,123.6 443.6,145.1 444.3,170.1 445.0,142.0 445.7,112.4 446.3,68.3 447.0,129.6 447.7,186.6 448.6,128.0 449.4,70.7 450.2,124.5 451.0,175.4 451.9,156.8 452.7,132.8 453.6,146.5 454.5,164.2 455.3,141.6 456.0,121.1 456.7,149.4 457.3,183.7 458.0,170.6 458.6,156.6 459.2,140.6 459.8,157.7 460.4,177.6 461.0,201.5 461.7,157.7 462.4,124.9 463.0,90.1 463.6,122.6 464.2,158.1 464.9,196.5 465.5,158.9 466.1,125.9 466.8,133.4 467.4,145.6 468.1,149.8 468.9,140.0 469.7,130.8 470.4,146.9 471.1,161.9 471.7,188.3 472.5,159.3 473.2,135.6 474.0,157.9 474.8,186.9 475.4,161.7 476.1,132.5 476.8,111.6 477.5,124.5 478.2,137.3 478.9,115.5 479.5,93.6 480.2,110.6 480.8,125.8 482.0,90.7 482.6,112.6 483.3,133.9 483.9,152.4 484.7,146.9 485.5,134.7 486.3,191.7 487.1,242.0 487.7,178.4 488.3,105.9 489.0,175.7 489.7,244.4 490.9,112.5 491.6,165.3 492.2,220.1 492.9,191.0 493.6,162.6 494.2,133.6 495.0,179.2 495.8,218.8 496.7,162.9 497.6,108.8 498.3,172.6 499.0,224.8 499.8,184.7 500.5,147.8 501.1,160.9 501.7,177.6 502.3,195.4 503.2,172.0 504.1,148.7 505.2,179.8 505.9,141.0 506.5,106.1 507.2,118.0 507.8,132.4 508.5,115.5 509.2,107.5 509.8,114.8 510.5,129.9 511.1,136.8 511.9,103.8 512.6,76.9 513.5,81.4 514.4,91.3 515.0,81.8 515.7,75.2 516.4,61.4 517.3,103.4 518.2,138.1 518.8,123.5 519.5,110.2 520.1,96.8 520.8,116.6 521.4,126.5 522.1,141.0 522.7,126.9 523.3,110.0 523.9,100.9 524.6,131.4 525.3,165.3 526.5,111.2 527.3,126.3 528.1,139.6 528.7,134.7 529.4,126.2 530.0,118.5 530.8,159.4 531.7,198.2 532.5,171.3 533.4,150.3 534.2,160.2 535.0,168.0 535.8,139.4 536.6,113.9 537.3,141.4 537.9,178.1 538.8,143.2 539.7,117.0 540.4,137.8 541.1,153.7 541.8,178.2 542.5,163.1 543.1,158.7 543.8,147.1 544.6,162.8 545.4,175.2 546.5,108.0 547.2,156.2 547.9,212.4 548.5,177.9 549.2,136.3 549.8,169.0 550.5,200.4 551.2,154.6 551.8,118.5 552.6,130.5 553.4,150.5 554.2,123.7 555.0,104.6 555.8,132.0 556.6,164.9 557.2,132.7 557.9,89.2 558.6,123.8 559.2,153.0 560.0,123.6 560.7,94.1 561.3,109.3 562.0,124.6 562.7,140.5 563.3,124.6 564.0,100.4 565.2,189.8 565.9,153.5 566.7,123.1 567.4,137.8 568.1,158.2 568.7,182.4 569.4,149.2 570.1,114.5 570.8,133.1 571.4,151.7 572.1,169.7 572.7,152.5 573.4,134.6 574.0,114.0 574.7,141.0 575.3,158.2 575.9,181.3 576.8,159.7 577.6,139.8 578.2,164.6 578.8,187.1 579.5,152.6 580.1,127.6 580.8,96.5 581.5,115.0 582.2,142.5 583.0,118.2 583.7,88.8 584.5,127.8 585.3,170.2 586.0,167.3 586.7,164.9 587.4,176.1 588.1,199.4 589.3,96.5 590.1,141.0 590.8,182.5 591.5,135.4 592.1,86.2 592.7,119.9 593.3,144.0 594.0,137.7 594.7,128.7 595.4,116.6 596.1,131.4 596.9,149.7 598.0,117.7 598.7,121.9 599.4,137.6 600.0,153.8 600.7,134.9 601.4,121.1 602.1,135.3 602.8,147.1 603.5,142.7 604.1,135.5 604.8,130.4 605.6,154.3 606.4,186.8 607.2,166.9 607.9,147.5 608.5,157.2 609.1,171.1 609.7,179.8 610.5,143.6 611.2,104.7 611.9,122.5 612.7,141.9 613.3,127.1 613.9,112.0 614.5,101.8 615.3,119.9 616.1,133.9 616.8,121.3 617.6,109.6 618.4,149.6 619.2,189.2 620.0,145.3 620.9,101.3 621.5,127.2 622.1,153.5 622.8,181.0 623.5,136.7 624.2,96.7 625.0,137.9 625.8,170.2 626.4,151.9 627.0,132.1 627.8,190.0 628.6,242.6 629.3,190.9 629.9,146.3 630.6,112.2 631.4,157.9 632.2,207.6 632.9,148.5 633.6,88.6 634.4,117.9 635.1,141.9 636.3,105.2 637.0,117.7 637.6,130.0 638.3,148.3 639.0,118.7 639.6,82.9 640.3,115.8 640.9,141.3 642.1,73.7 642.7,85.0 643.3,105.4 644.0,100.7 644.6,91.9 645.3,78.9 645.9,111.8 646.5,133.6 647.2,161.2 648.4,115.0 649.0,152.1 649.7,189.6 650.4,225.4 651.5,134.5 652.2,174.7 652.8,226.5 653.7,181.6 654.5,135.9 655.2,137.1 655.9,145.2 656.6,153.2 657.4,143.1 658.3,129.0 658.9,153.9 659.6,174.6 660.3,168.5 661.0,151.3 661.7,144.1 662.3,169.7 662.9,195.2 663.8,168.5 664.7,146.7 665.6,166.9 666.4,187.6 667.1,148.3 667.8,107.4 669.0,127.6 669.7,104.4 670.3,89.2 671.0,107.4 671.6,128.8 672.3,143.0 673.0,112.3 673.7,95.0 674.3,110.6 675.0,127.0 675.7,149.0 676.4,136.1 677.0,117.3 677.6,102.6 678.5,132.9 679.3,176.1 679.9,172.7 680.5,168.1" fill="none" stroke="#2222ff" stroke-width="0.8" stroke-dasharray="3 2" stroke-linejoin="round"/><polyline points="401.0,120.9 401.6,128.1 402.3,135.6 402.9,142.7 403.6,124.7 404.3,105.3 405.0,114.0 405.8,123.0 406.9,106.4 407.6,123.6 408.3,138.9 409.0,155.2 409.7,131.9 410.4,111.0 411.1,126.5 411.7,142.1 412.4,157.6 413.1,141.7 413.7,127.0 414.4,110.8 415.1,145.5 415.9,180.2 417.1,117.5 417.8,151.1 418.5,183.9 419.7,113.9 420.3,125.4 421.0,139.1 421.6,150.9 422.3,136.7 423.0,124.1 423.6,110.7 424.8,212.2 425.9,140.5 426.6,172.6 427.4,205.8 428.1,170.1 428.9,134.5 429.6,161.8 430.3,189.0 431.2,165.2 432.1,139.4 432.7,153.4 433.3,170.8 434.0,185.5 434.7,161.4 435.4,137.3 436.2,165.8 437.0,194.4 437.7,172.2 438.3,149.6 439.0,153.5 439.7,157.2 440.3,160.9 441.0,142.1 441.6,118.8 442.3,100.9 443.0,124.4 443.6,146.6 444.3,168.9 445.0,143.1 445.7,116.0 446.3,89.7 447.0,132.4 447.7,174.6 448.6,131.0 449.4,87.5 450.2,131.1 451.0,174.5 451.9,153.1 452.7,131.6 453.6,146.4 454.5,161.5 455.3,142.4 456.0,122.5 456.7,150.0 457.3,177.7 458.0,165.9 458.6,155.1 459.2,142.2 459.8,156.7 460.4,172.3 461.0,187.3 461.7,157.8 462.4,128.5 463.0,99.1 463.6,125.9 464.2,154.9 464.9,182.4 465.5,155.6 466.1,129.3 466.8,135.8 467.4,142.7 468.1,149.6 468.9,140.2 469.7,130.5 470.4,147.4 471.1,163.0 471.7,181.2 472.5,157.4 473.2,135.4 474.0,157.9 474.8,180.4 475.4,158.2 476.1,136.2 476.8,114.2 477.5,124.2 478.2,134.8 478.9,117.7 479.5,100.2 480.2,115.5 480.8,130.5 482.0,99.5 482.6,117.3 483.3,135.5 483.9,153.4 484.7,145.0 485.5,137.2 486.3,183.0 487.1,227.8 487.7,171.7 488.3,114.3 489.0,169.1 489.7,222.7 490.9,119.2 491.6,159.7 492.2,199.3 492.9,178.5 493.6,157.8 494.2,136.5 495.0,170.1 495.8,202.2 496.7,160.9 497.6,119.6 498.3,166.2 499.0,208.7 499.8,176.5 500.5,146.6 501.1,159.1 501.7,171.7 502.3,183.9 503.2,165.7 504.1,146.5 505.2,174.3 505.9,142.5 506.5,111.0 507.2,123.6 507.8,136.4 508.5,122.4 509.2,108.0 509.8,118.4 510.5,129.2 511.1,138.7 511.9,111.1 512.6,83.9 513.5,91.4 514.4,103.5 515.0,94.9 515.7,84.9 516.4,77.2 517.3,107.1 518.2,138.9 518.8,127.7 519.5,117.2 520.1,106.3 520.8,118.1 521.4,129.3 522.1,142.1 522.7,128.2 523.3,117.7 523.9,105.0 524.6,132.8 525.3,160.5 526.5,118.8 527.3,130.2 528.1,140.0 528.7,134.3 529.4,129.6 530.0,124.9 530.8,157.2 531.7,189.5 532.5,169.6 533.4,152.2 534.2,157.4 535.0,162.8 535.8,139.1 536.6,116.2 537.3,145.1 537.9,173.6 538.8,145.9 539.7,117.0 540.4,137.2 541.1,155.9 541.8,178.8 542.5,169.6 543.1,158.5 543.8,149.3 544.6,160.2 545.4,171.2 546.5,113.7 547.2,158.8 547.9,203.9 548.5,173.0 549.2,139.3 549.8,165.5 550.5,188.8 551.2,152.7 551.8,117.0 552.6,131.0 553.4,147.7 554.2,126.2 555.0,104.2 555.8,132.7 556.6,163.7 557.2,131.6 557.9,99.6 558.6,125.3 559.2,151.2 560.0,124.3 560.7,96.1 561.3,111.0 562.0,126.1 562.7,141.0 563.3,123.9 564.0,106.1 565.2,188.3 565.9,156.2 566.7,124.0 567.4,140.5 568.1,158.3 568.7,175.4 569.4,147.4 570.1,121.5 570.8,136.0 571.4,151.0 572.1,165.4 572.7,151.4 573.4,135.8 574.0,122.5 574.7,140.7 575.3,158.2 575.9,176.0 576.8,157.7 577.6,139.8 578.2,161.9 578.8,183.3 579.5,153.9 580.1,128.3 580.8,100.9 581.5,120.4 582.2,143.3 583.0,120.7 583.7,97.3 584.5,130.6 585.3,164.4 586.0,163.7 586.7,163.1 587.4,173.0 588.1,185.5 589.3,107.7 590.1,141.8 590.8,176.0 591.5,137.9 592.1,99.8 592.7,123.1 593.3,146.0 594.0,137.4 594.7,130.1 595.4,120.8 596.1,135.8 596.9,151.2 598.0,121.1 598.7,130.5 599.4,140.7 600.0,150.9 600.7,136.7 601.4,125.6 602.1,136.3 602.8,149.2 603.5,143.0 604.1,137.3 604.8,130.6 605.6,155.2 606.4,178.9 607.2,163.8 607.9,146.0 608.5,155.3 609.1,164.8 609.7,174.1 610.5,141.7 611.2,109.8 611.9,123.0 612.7,138.3 613.3,127.7 613.9,115.4 614.5,107.1 615.3,121.0 616.1,134.1 616.8,121.0 617.6,105.0 618.4,144.9 619.2,184.8 620.0,144.5 620.9,104.2 621.5,128.4 622.1,153.1 622.8,177.5 623.5,137.6 624.2,97.6 625.0,133.6 625.8,170.1 626.4,153.4 627.0,136.6 627.8,179.9 628.6,220.5 629.3,183.5 629.9,146.6 630.6,109.4 631.4,158.4 632.2,208.6 632.9,147.3 633.6,86.2 634.4,115.3 635.1,144.1 636.3,104.9 637.0,118.7 637.6,133.1 638.3,146.9 639.0,121.6 639.6,96.8 640.3,118.5 640.9,140.8 642.1,82.9 642.7,99.6 643.3,115.5 644.0,106.1 644.6,96.9 645.3,87.9 645.9,111.1 646.5,136.4 647.2,157.7 648.4,117.3 649.0,150.8 649.7,183.2 650.4,216.9 651.5,136.0 652.2,171.1 652.8,206.3 653.7,172.5 654.5,138.1 655.2,142.9 655.9,146.8 656.6,151.6 657.4,141.2 658.3,131.1 658.9,150.9 659.6,171.4 660.3,162.8 661.0,151.7 661.7,143.5 662.3,167.3 662.9,189.8 663.8,167.1 664.7,146.0 665.6,164.1 666.4,181.1 667.1,145.9 667.8,110.7 669.0,132.4 669.7,112.0 670.3,91.5 671.0,109.9 671.6,128.8 672.3,144.4 673.0,116.9 673.7,87.9 674.3,108.4 675.0,128.7 675.7,148.7 676.4,136.4 677.0,122.1 677.6,108.9 678.5,139.5 679.3,170.5 679.9,168.6 680.5,165.3" fill="none" stroke="#f38c32" stroke-width="1.05" stroke-linejoin="round"/></g>
<g clip-path="url(#cpc)"><polyline points="34.7,611.4 35.4,588.9 36.1,570.1 36.7,556.3 37.4,543.9 38.1,534.9 38.8,524.7 39.5,531.1 40.1,535.0 40.8,543.3 41.5,550.5 42.6,542.0 43.7,553.1 44.8,571.7 45.9,543.5 47.0,533.6 47.6,527.1 48.3,511.1 49.0,501.6 49.7,501.0 50.4,494.0 51.0,485.4 51.9,479.1 52.7,472.1 53.8,493.2 54.6,558.1 55.3,564.3 56.0,569.1 56.6,574.1 57.3,576.2 58.0,579.1 58.7,576.2 59.4,580.6 60.0,584.2 61.1,584.3 62.2,593.0 63.3,619.6 64.1,636.3 64.9,601.5 65.8,566.4 66.9,552.7 67.9,550.0 68.6,555.5 69.3,555.1 70.4,561.0 71.5,532.0 72.2,522.1 72.8,509.5 73.5,503.1 74.2,496.8 74.9,487.1 75.6,475.7 76.3,466.0 76.9,453.7 77.6,455.7 78.3,455.6 79.1,478.8 79.9,463.5 81.0,481.1 82.1,451.2 83.2,455.0 84.3,485.2 85.4,503.7 86.5,552.5 87.6,541.9 88.7,532.5 89.7,528.1 90.8,545.2 91.9,560.5 93.0,552.8 94.1,571.9 95.2,562.1 96.3,550.7 97.4,540.3 98.5,553.6 99.6,521.8 100.6,525.6 101.7,546.5 102.8,535.5 103.9,548.4 105.0,557.5 106.1,573.2 107.2,592.2 108.3,583.1 109.4,548.0 110.4,531.7 111.5,529.7 112.6,533.1 113.7,517.8 114.8,506.2 115.9,494.7 116.6,500.0 117.3,487.7 117.9,493.8 118.6,496.7 119.7,500.4 120.8,538.1 121.9,584.9 122.6,579.5 123.3,568.4 123.9,568.5 124.6,555.6 125.3,554.8 126.0,558.0 126.7,573.2 127.3,592.3 128.4,614.3 129.5,591.2 130.6,573.9 131.7,585.5 132.8,616.9 133.4,619.7 134.1,623.3 134.7,630.0 135.4,620.7 136.1,616.2 136.7,608.0 137.4,607.7 138.1,608.6 138.8,602.2 139.5,601.9 140.1,595.8 140.8,586.7 141.5,576.2 142.2,567.9 142.9,558.6 143.6,557.1 144.2,557.6 144.9,554.7 145.6,551.5 146.3,540.4 147.0,525.7 147.6,498.6 148.3,474.3 149.0,461.7 149.7,453.3 150.4,457.4 151.0,448.4 151.9,451.2 152.7,456.6 153.5,473.5 154.3,512.9 155.1,528.5 156.0,506.6 157.0,494.2 158.1,489.9 159.2,502.7 160.3,508.5 161.4,498.5 162.5,488.3 163.6,498.5 164.7,542.0 165.8,555.1 166.9,574.5 167.9,592.8 169.0,580.1 170.1,541.9 171.2,531.2 172.3,546.2 173.4,558.6 174.5,530.1 175.6,527.0 176.7,544.1 177.8,560.0 178.8,566.2 179.9,543.5 181.0,530.9 182.1,544.2 183.2,577.7 184.3,581.0 185.4,561.7 186.5,547.9 187.6,528.9 188.7,487.5 189.7,495.1 190.8,496.9 191.9,503.4 193.0,535.1 194.1,555.8 195.2,561.5 196.3,542.4 197.4,502.0 198.5,529.7 199.6,554.8 200.6,571.9 201.7,542.2 202.8,543.0 203.9,545.2 205.0,566.7 206.1,576.5 207.2,583.0 208.3,565.9 209.4,558.2 210.4,572.9 211.5,562.7 212.6,562.6 213.7,535.1 214.8,491.1 215.9,507.1 217.0,552.6 218.1,559.9 219.2,546.5 220.3,529.0 221.3,516.7 222.4,496.0 223.5,521.9 224.6,537.8 225.7,547.4 226.8,541.5 227.9,552.2 229.0,560.0 230.1,536.7 231.2,522.5 232.2,534.6 233.3,528.0 234.0,515.1 234.7,503.3 235.4,505.2 236.1,509.1 236.7,500.2 237.4,493.9 238.1,484.7 238.8,475.1 239.5,472.8 240.1,475.9 240.8,471.7 241.5,471.9 242.2,470.2 242.9,471.7 243.6,473.8 244.2,473.9 244.9,469.7 245.6,464.0 246.3,456.1 247.0,450.8 247.6,443.6 248.3,438.7 249.0,452.7 249.7,462.8 250.4,473.2 251.0,490.5 251.7,497.2 252.4,501.2 253.1,497.5 253.8,488.8 254.5,493.2 255.1,488.5 255.8,493.1 256.5,496.6 257.2,485.4 257.9,478.7 258.5,484.4 259.2,501.3 259.9,520.3 260.6,539.6 261.3,539.1 261.9,541.2 262.6,551.0 263.3,561.1 264.0,570.4 264.7,581.6 265.4,593.6 266.0,599.6 266.7,602.7 267.4,595.3 268.1,594.3 268.8,591.3 269.4,598.9 270.1,612.0 270.8,614.0 271.5,615.8 272.2,610.8 272.8,606.2 273.7,536.1 274.5,467.2 275.6,441.0 276.7,427.9 277.8,438.9 278.8,447.6 279.9,453.1 281.0,459.8 281.7,467.0 282.4,471.8 283.1,482.2 283.7,482.6 284.4,501.5 285.1,511.8 285.8,532.5 286.5,555.7 287.2,555.3 287.8,551.2 288.5,552.1 289.2,549.5 289.9,538.6 290.6,542.9 291.2,538.8 291.9,535.8 292.6,539.6 293.3,546.2 294.0,547.2 294.6,557.4 295.3,564.7 296.0,573.5 296.7,573.9 297.4,575.1 298.1,581.6 298.7,583.2 299.4,578.3 300.1,567.4 300.8,548.7 301.5,532.2 302.1,516.6 302.8,508.7 303.5,505.0 304.2,491.4 304.9,487.5 305.5,477.0 306.2,489.6 306.9,506.8 307.6,499.7 308.3,494.7 309.0,491.5 309.6,484.5 310.3,485.9 311.0,489.3 311.7,495.6 312.4,508.2 313.0,521.6 313.7,534.0 314.5,534.9" fill="none" stroke="#22ee22" stroke-width="1.0" stroke-dasharray="4 1.5 1 1.5" stroke-linejoin="round"/><polyline points="34.2,567.9 34.9,552.8 35.6,546.0 36.3,540.0 37.0,534.0 37.7,529.9 38.3,524.1 39.0,529.5 39.7,534.0 40.4,540.9 41.1,548.4 42.2,538.4 43.2,553.4 44.3,567.9 45.4,538.8 46.5,534.6 47.2,525.4 47.9,515.1 48.6,512.2 49.2,510.4 49.9,507.5 50.6,501.5 51.4,499.2 52.2,494.4 53.3,509.7 54.1,550.1 54.8,556.1 55.5,559.4 56.2,566.3 56.9,567.0 57.5,569.9 58.2,570.1 58.9,572.0 59.6,566.9 60.7,576.3 61.8,590.3 62.9,614.8 63.7,630.4 64.5,594.6 65.3,559.1 66.4,545.5 67.5,548.8 68.2,547.8 68.9,548.4 69.9,552.3 71.0,530.7 71.7,523.5 72.4,518.6 73.1,510.2 73.8,504.2 74.4,499.3 75.1,489.5 75.8,478.0 76.5,464.0 77.2,454.9 77.8,454.4 78.7,480.8 79.5,464.2 80.6,491.6 81.7,452.1 82.8,466.7 83.8,492.6 84.9,511.4 86.0,546.0 87.1,539.0 88.2,532.0 89.3,527.3 90.4,543.9 91.5,560.2 92.6,551.7 93.7,563.9 94.7,556.5 95.8,545.8 96.9,538.3 98.0,548.7 99.1,526.6 100.2,528.2 101.3,539.0 102.4,534.9 103.5,546.4 104.5,549.8 105.6,560.1 106.7,579.7 107.8,571.1 108.9,544.1 110.0,531.6 111.1,528.9 112.2,531.8 113.3,523.0 114.4,514.1 115.4,504.0 116.1,505.1 116.8,504.8 117.5,502.2 118.2,499.3 119.3,503.5 120.4,539.9 121.4,581.4 122.1,567.6 122.8,560.6 123.5,555.2 124.2,549.8 124.8,552.6 125.5,548.0 126.2,567.4 126.9,583.4 128.0,607.3 129.1,584.3 130.2,564.2 131.3,575.0 132.3,616.1 133.0,618.1 133.6,625.0 134.2,624.8 134.9,621.6 135.6,613.6 136.3,613.0 137.0,605.1 137.7,592.3 138.3,586.8 139.0,581.9 139.7,582.2 140.4,574.6 141.1,559.6 141.7,557.2 142.4,551.6 143.1,548.7 143.8,547.0 144.5,550.3 145.1,545.3 145.8,535.7 146.5,526.9 147.2,506.3 147.9,486.2 148.6,480.3 149.2,470.7 149.9,467.8 150.6,458.7 151.4,456.0 152.2,456.4 153.1,486.4 153.9,512.6 154.7,527.8 155.5,514.4 156.6,506.1 157.7,500.7 158.8,510.2 159.9,514.3 161.0,505.1 162.0,505.6 163.1,507.2 164.2,540.0 165.3,553.4 166.4,563.5 167.5,580.3 168.6,565.1 169.7,541.2 170.8,530.1 171.9,540.7 172.9,554.2 174.0,531.4 175.1,527.5 176.2,542.0 177.3,556.5 178.4,560.8 179.5,538.7 180.6,533.5 181.7,540.4 182.8,559.1 183.8,570.4 184.9,558.4 186.0,545.1 187.1,528.0 188.2,494.0 189.3,496.1 190.4,504.4 191.5,505.5 192.6,536.3 193.7,553.3 194.7,555.2 195.8,537.6 196.9,507.6 198.0,529.2 199.1,550.0 200.2,552.3 201.3,539.4 202.4,535.4 203.5,543.1 204.5,557.0 205.6,566.4 206.7,569.0 207.8,556.6 208.9,553.2 210.0,565.8 211.1,557.9 212.2,556.4 213.3,535.4 214.4,500.9 215.4,511.8 216.5,548.7 217.6,556.9 218.7,539.5 219.8,528.1 220.9,517.6 222.0,507.7 223.1,524.4 224.2,536.4 225.3,542.5 226.3,539.2 227.4,545.5 228.5,553.6 229.6,533.8 230.7,525.0 231.8,534.4 232.9,531.6 233.6,522.2 234.2,514.4 234.9,513.6 235.6,515.7 236.3,511.0 237.0,507.7 237.7,495.1 238.3,491.8 239.0,490.0 239.7,491.0 240.4,491.7 241.1,493.7 241.7,490.8 242.4,490.7 243.1,489.3 243.8,494.2 244.5,487.6 245.1,482.6 245.8,476.7 246.5,472.5 247.2,462.7 247.9,454.7 248.6,462.9 249.2,474.1 249.9,490.1 250.6,502.2 251.3,507.6 252.0,511.2 252.6,506.0 253.3,503.5 254.0,501.7 254.7,503.1 255.4,506.4 256.0,512.1 256.7,503.8 257.4,491.5 258.1,499.7 258.8,503.8 259.5,521.1 260.1,537.8 260.8,537.9 261.5,540.4 262.2,544.6 262.9,551.4 263.5,558.8 264.2,563.4 264.9,577.0 265.6,583.4 266.3,583.5 266.9,579.6 267.6,575.3 268.3,567.2 269.0,576.8 269.7,587.9 270.4,594.9 271.0,600.7 271.7,593.9 272.4,586.3 273.2,533.9 274.0,483.4 275.1,460.1 276.2,433.7 277.3,449.2 278.4,462.2 279.5,468.0 280.6,473.6 281.3,485.6 281.9,490.5 282.6,494.7 283.3,499.7 284.0,505.4 284.7,516.6 285.3,535.0 286.0,553.3 286.7,549.7 287.4,546.4 288.1,546.4 288.7,544.2 289.4,539.8 290.1,542.6 290.8,539.7 291.5,535.3 292.2,539.7 292.8,538.4 293.5,542.2 294.2,548.0 294.9,548.6 295.6,552.1 296.2,553.2 296.9,552.1 297.6,559.4 298.3,557.3 299.0,554.9 299.6,547.8 300.3,538.5 301.0,526.5 301.7,519.4 302.4,512.2 303.1,502.4 303.7,499.6 304.4,492.7 305.1,481.1 305.8,500.4 306.5,514.3 307.1,508.4 307.8,503.5 308.5,500.6 309.2,496.9 309.9,496.5 310.5,494.4 311.2,503.9 311.9,511.5 312.6,524.3 313.3,534.3 314.1,537.4" fill="none" stroke="#111" stroke-width="0.9" stroke-dasharray="3 1 1 1 1 1" stroke-linejoin="round"/><polyline points="33.8,571.4 34.5,558.8 35.2,544.4 35.8,538.0 36.5,537.3 37.2,530.0 37.9,524.8 38.6,529.4 39.2,534.0 39.9,541.5 40.6,548.9 41.7,537.4 42.8,554.3 43.9,570.5 45.0,542.5 46.1,534.2 46.7,525.3 47.4,515.6 48.1,515.6 48.8,511.4 49.5,508.0 50.1,502.0 51.0,496.9 51.8,487.9 52.9,503.0 53.7,552.7 54.4,558.1 55.1,559.3 55.7,560.7 56.4,568.6 57.1,565.2 57.8,565.7 58.5,561.6 59.1,569.2 60.2,565.4 61.3,577.3 62.4,612.9 63.2,633.4 64.0,604.5 64.9,559.4 66.0,550.1 67.0,552.4 67.7,550.5 68.4,550.1 69.5,554.4 70.6,531.0 71.3,525.0 71.9,517.7 72.6,512.4 73.3,502.7 74.0,494.1 74.7,486.0 75.4,477.6 76.0,468.0 76.7,467.2 77.4,458.2 78.2,490.4 79.0,477.8 80.1,500.4 81.2,460.8 82.3,472.5 83.4,494.5 84.5,510.9 85.6,548.8 86.7,543.3 87.8,530.3 88.8,527.0 89.9,547.1 91.0,559.0 92.1,551.6 93.2,563.8 94.3,560.6 95.4,547.2 96.5,537.9 97.6,550.8 98.7,524.9 99.7,526.5 100.8,540.8 101.9,533.8 103.0,545.2 104.1,552.7 105.2,566.1 106.3,584.8 107.4,568.2 108.5,542.5 109.5,532.4 110.6,529.9 111.7,531.1 112.8,521.9 113.9,511.0 115.0,502.9 115.7,499.5 116.4,499.1 117.0,501.9 117.7,503.2 118.8,505.4 119.9,539.0 121.0,572.5 121.7,566.8 122.4,559.3 123.0,555.8 123.7,549.6 124.4,549.1 125.1,547.8 125.8,564.5 126.4,579.5 127.5,606.5 128.6,582.8 129.7,564.5 130.8,571.6 131.9,594.3 132.5,598.1 133.2,612.1 133.8,621.7 134.5,609.8 135.2,600.3 135.8,599.3 136.5,595.4 137.2,601.1 137.9,591.7 138.6,590.4 139.2,595.5 139.9,576.7 140.6,567.6 141.3,559.5 142.0,553.6 142.7,555.5 143.3,555.2 144.0,551.2 144.7,550.5 145.4,537.6 146.1,528.6 146.7,504.4 147.4,477.8 148.1,466.2 148.8,452.5 149.5,452.5 150.1,449.5 151.0,453.1 151.8,457.5 152.6,483.7 153.4,517.4 154.2,527.3 155.1,511.1 156.1,499.0 157.2,495.9 158.3,503.7 159.4,509.4 160.5,498.1 161.6,500.0 162.7,505.1 163.8,540.2 164.9,546.4 166.0,559.8 167.0,576.7 168.1,566.5 169.2,538.8 170.3,532.2 171.4,544.2 172.5,552.7 173.6,531.0 174.7,527.0 175.8,541.2 176.9,553.4 177.9,559.3 179.0,539.9 180.1,533.3 181.2,541.7 182.3,557.6 183.4,571.8 184.5,558.4 185.6,548.5 186.7,528.6 187.8,495.5 188.8,499.3 189.9,503.7 191.0,508.0 192.1,534.9 193.2,552.6 194.3,554.4 195.4,539.0 196.5,509.7 197.6,527.8 198.7,549.0 199.7,556.5 200.8,540.8 201.9,537.7 203.0,544.1 204.1,556.3 205.2,564.9 206.3,566.8 207.4,556.7 208.5,555.7 209.5,568.2 210.6,557.0 211.7,556.0 212.8,535.3 213.9,502.2 215.0,514.8 216.1,546.1 217.2,553.6 218.3,541.4 219.4,529.7 220.4,518.9 221.5,504.9 222.6,521.7 223.7,539.2 224.8,546.3 225.9,540.3 227.0,546.4 228.1,554.4 229.2,534.1 230.3,525.9 231.3,534.9 232.4,528.2 233.1,518.4 233.8,512.7 234.5,514.6 235.2,516.8 235.8,512.4 236.5,508.9 237.2,500.6 237.9,489.6 238.6,488.6 239.2,484.4 239.9,485.4 240.6,486.1 241.3,486.1 242.0,479.3 242.7,482.6 243.3,484.7 244.0,480.0 244.7,480.1 245.4,477.7 246.1,463.4 246.7,457.0 247.4,455.6 248.1,472.4 248.8,486.1 249.5,493.4 250.1,503.8 250.8,508.4 251.5,512.8 252.2,509.7 252.9,505.0 253.6,502.7 254.2,497.7 254.9,501.7 255.6,506.3 256.3,496.3 257.0,484.3 257.6,493.0 258.3,503.6 259.0,519.7 259.7,537.5 260.4,539.3 261.0,543.1 261.7,547.3 262.4,553.8 263.1,558.0 263.8,567.2 264.5,577.0 265.1,586.1 265.8,589.9 266.5,586.9 267.2,576.0 267.9,570.6 268.5,577.4 269.2,592.3 269.9,594.4 270.6,599.9 271.3,591.3 271.9,587.1 272.8,533.9 273.6,475.4 274.7,453.8 275.8,441.5 276.9,439.3 277.9,453.2 279.0,463.0 280.1,461.6 280.8,475.6 281.5,488.8 282.2,494.1 282.8,497.6 283.5,507.3 284.2,515.8 284.9,535.4 285.6,553.5 286.3,552.0 286.9,545.8 287.6,547.7 288.3,543.9 289.0,542.6 289.7,541.1 290.3,539.4 291.0,538.4 291.7,538.5 292.4,541.3 293.1,546.2 293.7,546.7 294.4,547.6 295.1,549.8 295.8,553.9 296.5,553.1 297.2,558.6 297.8,558.5 298.5,556.5 299.2,553.9 299.9,538.7 300.6,527.8 301.2,517.3 301.9,510.3 302.6,504.3 303.3,499.9 304.0,495.1 304.6,482.5 305.3,496.0 306.0,512.6 306.7,508.1 307.4,504.4 308.1,502.1 308.7,497.1 309.4,494.8 310.1,491.2 310.8,504.4 311.5,513.5 312.1,524.4 312.8,535.9 313.6,539.0" fill="none" stroke="#ff22ff" stroke-width="1.0" stroke-dasharray="1.6 1" stroke-linejoin="round"/><polyline points="34.3,565.5 35.0,557.9 35.7,542.6 36.3,538.2 37.0,534.0 37.7,531.9 38.4,526.1 39.1,532.1 39.7,534.6 40.4,538.2 41.1,543.0 42.2,536.6 43.3,551.2 44.4,564.2 45.5,538.8 46.6,534.6 47.2,526.8 47.9,518.0 48.6,510.9 49.3,510.8 50.0,506.0 50.6,501.6 51.5,498.1 52.3,493.4 53.4,501.4 54.2,553.7 54.9,553.9 55.6,558.4 56.2,559.1 56.9,561.2 57.6,566.0 58.3,569.8 59.0,571.0 59.6,570.0 60.7,568.7 61.8,586.5 62.9,609.4 63.7,624.7 64.5,588.8 65.4,551.6 66.5,543.3 67.5,548.9 68.2,546.9 68.9,546.8 70.0,546.7 71.1,530.0 71.8,525.0 72.4,519.5 73.1,512.3 73.8,503.2 74.5,494.4 75.2,483.2 75.9,472.3 76.5,465.8 77.2,472.6 77.9,468.8 78.7,489.1 79.5,476.3 80.6,491.5 81.7,455.6 82.8,459.9 83.9,490.9 85.0,509.7 86.1,550.3 87.2,542.5 88.3,532.6 89.3,528.7 90.4,543.9 91.5,553.7 92.6,550.8 93.7,560.5 94.8,555.7 95.9,546.6 97.0,536.7 98.1,549.2 99.2,524.4 100.2,527.3 101.3,541.1 102.4,534.3 103.5,546.3 104.6,551.7 105.7,565.9 106.8,587.5 107.9,566.4 109.0,544.0 110.0,530.4 111.1,530.7 112.2,531.8 113.3,521.6 114.4,510.3 115.5,503.2 116.2,500.6 116.9,507.2 117.5,503.5 118.2,504.4 119.3,507.8 120.4,539.0 121.5,569.6 122.2,567.1 122.9,558.8 123.5,552.3 124.2,547.5 124.9,548.8 125.6,551.0 126.3,562.7 126.9,582.2 128.0,604.2 129.1,579.7 130.2,562.8 131.3,573.9 132.4,617.6 133.0,619.8 133.7,616.2 134.3,621.8 135.0,613.9 135.7,607.5 136.3,600.4 137.0,598.4 137.7,603.5 138.4,596.0 139.1,597.7 139.7,597.1 140.4,581.0 141.1,569.3 141.8,561.5 142.5,555.9 143.2,556.1 143.8,555.0 144.5,552.7 145.2,551.1 145.9,538.9 146.6,527.7 147.2,504.5 147.9,475.5 148.6,462.4 149.3,455.5 150.0,457.2 150.6,461.5 151.5,453.6 152.3,455.9 153.1,481.5 153.9,512.7 154.7,529.0 155.6,512.8 156.6,501.6 157.7,495.1 158.8,504.1 159.9,509.2 161.0,500.7 162.1,504.5 163.2,508.2 164.3,540.4 165.4,549.5 166.5,562.9 167.5,578.1 168.6,562.2 169.7,539.4 170.8,530.3 171.9,542.5 173.0,552.0 174.1,532.9 175.2,528.4 176.3,543.0 177.4,555.9 178.4,560.7 179.5,541.7 180.6,532.5 181.7,539.2 182.8,559.9 183.9,570.5 185.0,556.6 186.1,547.0 187.2,528.3 188.3,494.5 189.3,496.4 190.4,505.7 191.5,511.7 192.6,534.3 193.7,547.5 194.8,553.3 195.9,538.1 197.0,510.4 198.1,527.1 199.2,551.2 200.2,560.7 201.3,538.6 202.4,535.5 203.5,540.6 204.6,555.2 205.7,556.7 206.8,562.1 207.9,551.9 209.0,548.8 210.0,557.4 211.1,547.6 212.2,550.2 213.3,532.9 214.4,504.3 215.5,513.9 216.6,545.3 217.7,549.8 218.8,540.7 219.9,527.4 220.9,518.0 222.0,506.4 223.1,523.5 224.2,537.7 225.3,542.7 226.4,538.9 227.5,546.5 228.6,550.1 229.7,534.0 230.8,525.6 231.8,534.4 232.9,529.2 233.6,519.4 234.3,513.7 235.0,515.0 235.7,517.9 236.3,512.5 237.0,507.0 237.7,498.7 238.4,492.5 239.1,492.9 239.7,486.0 240.4,486.5 241.1,489.6 241.8,489.6 242.5,484.1 243.2,484.4 243.8,489.1 244.5,490.0 245.2,478.6 245.9,473.6 246.6,470.5 247.2,470.1 247.9,461.4 248.6,467.2 249.3,475.7 250.0,486.7 250.6,502.9 251.3,510.4 252.0,511.9 252.7,508.2 253.4,506.1 254.1,505.3 254.7,501.3 255.4,507.7 256.1,511.3 256.8,497.0 257.5,488.7 258.1,497.1 258.8,503.7 259.5,520.5 260.2,538.7 260.9,539.1 261.5,539.9 262.2,545.9 262.9,556.5 263.6,563.6 264.3,572.8 265.0,580.5 265.6,589.2 266.3,590.9 267.0,585.3 267.7,574.3 268.4,568.1 269.0,577.4 269.7,581.9 270.4,590.6 271.1,593.4 271.8,590.2 272.4,589.4 273.3,533.9 274.1,468.3 275.2,447.6 276.3,432.8 277.4,445.2 278.4,454.6 279.5,455.9 280.6,473.5 281.3,474.8 282.0,479.0 282.7,491.0 283.3,496.5 284.0,508.3 284.7,517.0 285.4,536.6 286.1,553.2 286.8,548.6 287.4,546.2 288.1,543.2 288.8,544.2 289.5,541.5 290.2,542.0 290.8,537.6 291.5,536.3 292.2,538.1 292.9,539.1 293.6,543.8 294.2,546.7 294.9,546.8 295.6,551.4 296.3,550.4 297.0,551.9 297.7,553.4 298.3,557.4 299.0,552.4 299.7,547.7 300.4,538.0 301.1,529.2 301.7,520.0 302.4,510.2 303.1,504.9 303.8,499.8 304.5,496.4 305.1,495.3 305.8,507.5 306.5,514.8 307.2,510.3 307.9,508.3 308.6,506.2 309.2,505.5 309.9,500.5 310.6,500.4 311.3,506.4 312.0,513.0 312.6,526.1 313.3,534.7 314.1,537.5" fill="none" stroke="#2222ff" stroke-width="1.0" stroke-dasharray="3 2" stroke-linejoin="round"/><polyline points="34.0,564.0 34.7,553.0 35.4,542.2 36.0,538.0 36.7,534.0 37.4,530.3 38.1,525.8 38.8,529.8 39.4,534.0 40.1,540.0 40.8,544.9 41.9,536.7 43.0,550.3 44.1,561.2 45.2,539.4 46.3,534.0 46.9,525.8 47.6,517.6 48.3,514.2 49.0,512.2 49.7,508.1 50.3,504.0 51.2,499.2 52.0,494.5 53.1,506.7 53.9,550.3 54.6,552.9 55.3,555.8 55.9,558.2 56.6,561.2 57.3,562.6 58.0,564.0 58.7,565.6 59.3,566.7 60.4,569.4 61.5,577.6 62.6,602.1 63.4,618.5 64.2,588.5 65.1,555.8 66.2,544.9 67.2,546.3 67.9,546.4 68.6,547.6 69.7,550.3 70.8,531.3 71.5,525.5 72.1,520.4 72.8,513.1 73.5,506.7 74.2,498.6 74.9,490.4 75.6,481.3 76.2,472.7 76.9,472.0 77.6,471.3 78.4,493.1 79.2,479.5 80.3,495.8 81.4,465.9 82.5,474.0 83.6,495.8 84.7,514.9 85.8,544.9 86.9,539.4 88.0,531.3 89.0,528.5 90.1,542.2 91.2,553.1 92.3,547.6 93.4,558.5 94.5,553.1 95.6,544.9 96.7,536.7 97.8,547.6 98.9,525.8 99.9,528.5 101.0,539.4 102.1,534.0 103.2,544.9 104.3,550.3 105.4,561.2 106.5,574.9 107.6,566.7 108.7,542.2 109.7,531.3 110.8,529.9 111.9,531.3 113.0,523.1 114.1,512.2 115.2,506.7 115.9,505.4 116.6,504.0 117.2,505.3 117.9,505.4 119.0,506.7 120.1,539.4 121.2,572.1 121.9,563.1 122.6,555.8 123.2,550.6 123.9,546.3 124.6,546.9 125.3,547.6 126.0,562.5 126.6,577.6 127.7,599.4 128.8,577.6 129.9,561.2 131.0,569.4 132.1,599.4 132.7,604.0 133.4,608.4 134.0,613.0 134.7,606.1 135.4,599.4 136.0,596.0 136.7,591.2 137.4,591.1 138.1,588.5 138.8,586.2 139.4,583.0 140.1,571.9 140.8,561.2 141.5,556.1 142.2,550.3 142.9,549.7 143.5,549.0 144.2,547.1 144.9,544.9 145.6,536.7 146.3,528.5 146.9,509.5 147.6,490.4 148.3,479.5 149.0,468.6 149.7,467.2 150.3,465.9 151.2,467.2 152.0,471.3 152.8,490.4 153.6,517.6 154.4,528.5 155.3,514.9 156.3,504.0 157.4,498.6 158.5,509.5 159.6,514.9 160.7,506.7 161.8,504.0 162.9,509.5 164.0,539.4 165.1,547.6 166.2,558.5 167.2,574.9 168.3,561.2 169.4,539.4 170.5,531.3 171.6,542.2 172.7,550.3 173.8,531.3 174.9,528.5 176.0,542.2 177.1,553.1 178.1,555.8 179.2,539.4 180.3,532.6 181.4,539.4 182.5,558.5 183.6,566.7 184.7,553.1 185.8,544.9 186.9,528.5 188.0,501.3 189.0,504.0 190.1,509.5 191.2,512.2 192.3,534.0 193.4,547.6 194.5,550.3 195.6,536.7 196.7,512.2 197.8,528.5 198.9,547.6 199.9,555.8 201.0,539.4 202.1,536.7 203.2,542.2 204.3,553.1 205.4,561.2 206.5,564.0 207.6,553.1 208.7,550.3 209.7,558.5 210.8,553.1 211.9,550.3 213.0,534.0 214.1,506.7 215.2,514.9 216.3,544.9 217.4,553.1 218.5,539.4 219.6,528.5 220.6,520.4 221.7,509.5 222.8,523.1 223.9,536.7 225.0,542.2 226.1,539.4 227.2,544.9 228.3,550.3 229.4,534.0 230.5,525.8 231.5,534.0 232.6,528.5 233.3,522.0 234.0,514.9 234.7,516.2 235.4,517.6 236.0,512.2 236.7,506.7 237.4,497.9 238.1,490.4 238.8,488.7 239.4,487.7 240.1,488.3 240.8,489.0 241.5,487.0 242.2,484.9 242.9,489.0 243.5,493.1 244.2,489.8 244.9,487.7 245.6,483.4 246.3,479.5 246.9,475.3 247.6,471.3 248.3,479.3 249.0,487.7 249.7,497.3 250.3,506.7 251.0,510.9 251.7,514.9 252.4,510.8 253.1,506.7 253.8,506.2 254.4,504.0 255.1,507.6 255.8,512.2 256.5,501.3 257.2,490.4 257.8,498.5 258.5,506.7 259.2,521.8 259.9,536.7 260.6,537.9 261.2,539.4 261.9,545.0 262.6,550.3 263.3,557.2 264.0,564.0 264.7,573.4 265.3,583.0 266.0,580.3 266.7,577.6 267.4,571.9 268.1,566.7 268.7,573.8 269.4,580.3 270.1,584.8 270.8,588.5 271.5,586.2 272.1,583.0 273.0,534.0 273.8,479.5 274.9,457.7 276.0,446.8 277.1,452.2 278.1,463.1 279.2,468.6 280.3,474.0 281.0,481.1 281.7,487.7 282.4,494.6 283.0,501.3 283.7,509.3 284.4,517.6 285.1,534.5 285.8,550.3 286.5,547.6 287.1,544.9 287.8,544.7 288.5,542.2 289.2,540.1 289.9,539.4 290.5,538.1 291.2,536.7 291.9,538.0 292.6,539.4 293.3,542.4 293.9,544.9 294.6,546.2 295.3,547.6 296.0,548.9 296.7,550.3 297.4,553.2 298.0,555.8 298.7,551.8 299.4,547.6 300.1,537.6 300.8,528.5 301.4,521.6 302.1,514.9 302.8,509.4 303.5,506.7 304.2,500.0 304.8,493.1 305.5,504.6 306.2,514.9 306.9,510.3 307.6,506.7 308.3,503.8 308.9,501.3 309.6,499.9 310.3,498.6 311.0,506.7 311.7,514.9 312.3,525.0 313.0,534.0 313.8,536.7" fill="none" stroke="#f38c32" stroke-width="1.2" stroke-linejoin="round"/></g>
<g clip-path="url(#cpd)"><polyline points="401.0,553.5 401.8,540.6 402.5,535.4 403.7,489.6 404.3,530.8 404.9,573.7 405.8,483.0 406.7,540.7 407.5,593.5 408.6,450.5 409.4,525.1 410.3,608.7 411.1,550.1 411.8,508.5 412.5,553.8 413.1,601.4 414.1,505.6 415.2,491.5 416.2,572.9 417.0,564.8 417.8,551.9 418.6,545.3 419.4,540.9 420.3,533.9 421.2,455.4 421.8,515.6 422.5,584.3 423.6,501.9 424.8,579.7 425.5,501.9 426.2,434.5 427.0,492.1 427.8,553.3 428.9,520.1 429.6,559.7 430.2,606.5 431.3,614.0 432.2,552.6 433.0,483.4 433.8,463.9 434.5,444.3 435.4,492.2 436.2,542.4 437.0,549.7 437.8,562.6 438.9,487.6 439.6,551.6 440.4,608.1 441.0,606.6 441.6,597.4 442.3,554.1 443.0,510.9 443.8,505.2 444.5,500.4 445.1,497.3 445.7,495.4 446.8,566.9 447.5,599.9 448.3,633.7 449.0,540.7 449.8,442.9 450.6,503.9 451.4,550.8 452.1,521.8 452.9,491.7 453.9,592.2 454.7,566.3 455.5,538.7 456.1,501.7 456.8,462.9 457.6,522.8 458.5,572.0 459.1,524.5 459.7,474.8 460.3,504.2 460.9,535.1 461.8,479.0 462.6,429.1 463.7,582.9 464.8,576.6 465.8,489.7 466.8,493.1 467.6,520.6 468.4,553.0 469.0,526.8 469.7,502.1 470.3,518.1 471.0,534.5 472.0,488.5 473.1,460.2 474.0,483.1 475.1,598.3 475.9,553.4 476.7,514.4 477.4,528.0 478.0,542.3 478.7,518.6 479.5,503.7 480.6,592.0 481.2,544.1 481.9,499.4 482.6,521.7 483.3,542.4 484.1,548.7 484.8,546.2 485.7,562.0 486.7,431.9 487.8,504.4 488.9,523.9 489.7,553.6 490.5,584.6 491.7,501.6 492.4,467.1 493.1,440.6 493.9,491.4 494.8,547.1 495.5,551.0 496.2,567.7 497.0,508.1 497.8,447.6 498.6,492.5 499.4,537.4 500.1,506.4 500.8,481.4 502.0,529.4 502.9,482.0 503.6,474.5 504.3,469.7 505.0,510.8 505.8,547.6 506.5,522.0 507.2,496.6 507.9,527.8 508.5,565.8 509.2,536.0 509.9,508.2 510.5,551.2 511.2,577.6 512.3,578.7 513.0,554.0 513.7,530.9 514.5,584.9 515.4,629.6 516.2,560.3 517.0,494.4 517.7,528.8 518.3,561.3 519.2,573.5 520.3,525.9 521.4,527.6 522.5,585.5 523.5,539.4 524.2,508.0 524.8,472.9 525.5,530.9 526.1,587.2 526.8,579.3 527.4,579.6 528.5,470.2 529.6,475.0 530.7,446.4 531.6,517.1 532.4,586.0 533.4,548.6 534.4,541.6 535.0,515.8 535.6,486.1 536.4,526.8 537.3,570.7 538.4,503.4 539.2,529.0 540.0,549.4 540.8,510.4 541.6,462.4 542.4,508.0 543.1,543.5 543.8,501.1 544.5,451.2 545.5,555.1 546.3,540.1 547.1,525.1 547.7,559.3 548.3,596.0 548.9,551.2 549.5,512.2 550.1,503.5 550.7,510.7 551.9,619.2 553.0,424.0 554.0,434.6 554.6,500.4 555.2,563.4 556.3,517.5 557.3,516.7 558.1,543.0 558.9,579.1 559.5,577.6 560.2,570.7 561.1,534.7 561.9,578.6 562.7,614.4 563.8,522.6 564.9,484.2 565.8,517.1 566.6,557.1 567.3,542.6 567.9,527.3 568.5,531.0 569.1,527.1 569.9,527.7 570.6,526.9 571.8,423.2 572.4,490.1 573.0,566.4 573.7,519.0 574.5,468.9 575.1,518.7 575.8,572.4 577.0,503.5 577.6,501.6 578.3,503.1 579.0,495.7 579.6,483.2 580.4,532.4 581.2,590.6 582.3,467.7 583.0,502.9 583.6,540.8 584.7,580.0 585.3,534.7 585.9,482.0 586.7,551.5 587.5,610.2 588.2,511.3 588.8,422.3 590.0,423.9 590.6,472.6 591.2,535.6 592.2,610.2 593.0,540.4 593.8,471.4 594.9,572.7 595.9,562.2 596.9,472.4 597.9,541.0 598.7,578.0 599.5,610.2 600.2,601.3 601.0,593.4 602.0,490.0 602.8,538.0 603.6,568.2 604.5,533.5 605.6,532.1 606.3,547.2 607.0,559.1 607.8,534.3 608.7,507.5 609.3,549.8 610.0,592.5 611.1,480.0 612.0,542.6 612.8,596.1 613.8,597.5 614.5,537.6 615.2,494.3 615.9,524.8 616.7,552.9 617.8,572.2 618.8,506.8 619.8,522.5 620.6,507.3 621.4,492.7 622.5,493.0 623.4,544.7 624.2,584.6 625.0,513.2 625.8,444.2 626.4,486.5 627.1,536.0 628.1,475.5 628.8,524.9 629.4,575.7 630.2,509.7 630.9,430.2 632.0,545.2 633.1,467.8 634.1,451.0 634.8,506.9 635.4,557.1 636.6,445.2 637.6,447.6 638.4,479.4 639.3,502.4 639.9,506.1 640.5,507.3 641.7,536.0 642.3,573.8 642.9,617.6 643.6,565.3 644.4,511.5 645.0,466.2 645.7,431.7 646.5,498.1 647.3,571.2 648.3,482.9 649.0,535.3 649.7,593.2 650.5,550.0 651.4,506.1 652.4,493.9 653.1,462.0 653.8,438.1 654.4,517.7 655.1,591.2 656.2,452.3 656.9,496.6 657.6,539.3 658.6,512.5 659.8,561.2 660.5,567.7 661.1,572.0 661.8,517.7 662.5,476.8 663.5,541.8 664.4,532.5 665.1,513.0 665.7,493.0 666.8,509.9 667.6,468.2 668.4,432.1 669.4,613.1 670.4,497.3 671.2,518.6 672.0,547.2 672.6,512.7 673.2,477.2 673.9,474.9 674.5,476.3 675.5,617.1 676.2,561.1 676.9,513.4 677.7,527.2 678.5,538.9 679.2,526.7 679.9,526.6" fill="none" stroke="#22ee22" stroke-width="0.8" stroke-dasharray="4 1.5 1 1.5" stroke-linejoin="round"/><polyline points="401.0,550.6 401.8,537.6 402.5,536.8 403.7,488.8 404.3,529.1 404.9,574.9 405.8,478.0 406.7,540.3 407.5,596.5 408.6,444.1 409.4,525.2 410.3,607.5 411.1,559.2 411.8,500.2 412.5,551.4 413.1,603.9 414.1,501.3 415.2,490.3 416.2,579.4 417.0,561.6 417.8,558.2 418.6,544.8 419.4,542.2 420.3,537.4 421.2,469.0 421.8,515.6 422.5,583.0 423.6,509.0 424.8,580.2 425.5,499.0 426.2,433.6 427.0,489.7 427.8,554.7 428.9,514.1 429.6,564.4 430.2,607.0 431.3,616.6 432.2,549.2 433.0,490.0 433.8,463.7 434.5,442.9 435.4,489.2 436.2,540.6 437.0,549.5 437.8,560.8 438.9,483.6 439.6,551.5 440.4,612.7 441.0,605.2 441.6,596.0 442.3,550.7 443.0,511.5 443.8,510.4 444.5,501.0 445.1,494.1 445.7,488.5 446.8,565.8 447.5,600.4 448.3,636.9 449.0,541.2 449.8,445.8 450.6,499.7 451.4,551.1 452.1,519.3 452.9,492.0 453.9,593.1 454.7,568.6 455.5,540.8 456.1,496.3 456.8,459.0 457.6,518.3 458.5,576.9 459.1,527.1 459.7,482.9 460.3,511.3 460.9,536.0 461.8,487.2 462.6,433.1 463.7,586.6 464.8,588.9 465.8,488.5 466.8,487.2 467.6,518.5 468.4,552.0 469.0,527.5 469.7,504.3 470.3,516.2 471.0,534.2 472.0,490.1 473.1,468.1 474.0,483.2 475.1,590.5 475.9,556.3 476.7,513.1 477.4,523.0 478.0,543.3 478.7,522.4 479.5,509.4 480.6,589.4 481.2,543.1 481.9,495.9 482.6,518.4 483.3,545.3 484.1,542.6 484.8,551.5 485.7,565.4 486.7,432.4 487.8,505.7 488.9,526.6 489.7,553.7 490.5,590.8 491.7,492.9 492.4,462.1 493.1,424.4 493.9,479.6 494.8,554.3 495.5,564.0 496.2,573.2 497.0,505.9 497.8,445.6 498.6,497.9 499.4,540.2 500.1,508.4 500.8,479.8 502.0,530.4 502.9,484.3 503.6,480.9 504.3,478.0 505.0,511.0 505.8,545.9 506.5,517.6 507.2,489.9 507.9,528.4 508.5,564.3 509.2,534.9 509.9,509.4 510.5,549.6 511.2,588.1 512.3,582.9 513.0,561.3 513.7,533.3 514.5,584.5 515.4,634.5 516.2,557.0 517.0,496.9 517.7,531.8 518.3,562.3 519.2,573.5 520.3,520.9 521.4,530.2 522.5,587.7 523.5,539.8 524.2,508.0 524.8,472.8 525.5,532.1 526.1,582.6 526.8,584.2 527.4,578.9 528.5,464.8 529.6,465.1 530.7,447.4 531.6,514.6 532.4,591.9 533.4,552.1 534.4,542.9 535.0,511.8 535.6,492.3 536.4,527.7 537.3,562.4 538.4,500.3 539.2,526.5 540.0,551.9 540.8,504.1 541.6,458.8 542.4,501.1 543.1,550.4 543.8,493.6 544.5,454.3 545.5,559.3 546.3,539.4 547.1,521.9 547.7,559.8 548.3,596.4 548.9,553.5 549.5,510.6 550.1,513.0 550.7,507.9 551.9,620.3 553.0,421.8 554.0,431.6 554.6,494.8 555.2,562.0 556.3,518.2 557.3,512.3 558.1,545.2 558.9,580.8 559.5,581.7 560.2,576.4 561.1,531.7 561.9,584.6 562.7,628.2 563.8,515.1 564.9,470.7 565.8,511.9 566.6,558.3 567.3,541.6 567.9,526.7 568.5,527.9 569.1,527.9 569.9,524.5 570.6,527.0 571.8,421.1 572.4,493.7 573.0,563.3 573.7,526.4 574.5,479.2 575.1,520.8 575.8,568.4 577.0,506.5 577.6,506.5 578.3,510.5 579.0,495.1 579.6,491.3 580.4,530.1 581.2,572.1 582.3,482.0 583.0,510.2 583.6,535.9 584.7,563.5 585.3,531.4 585.9,492.4 586.7,545.5 587.5,606.8 588.2,513.6 588.8,419.5 590.0,425.9 590.6,473.4 591.2,534.1 592.2,611.3 593.0,541.6 593.8,470.1 594.9,573.9 595.9,560.0 596.9,467.6 597.9,539.9 598.7,577.5 599.5,606.9 600.2,593.4 601.0,592.0 602.0,498.7 602.8,532.7 603.6,567.6 604.5,530.5 605.6,532.3 606.3,548.8 607.0,562.8 607.8,538.0 608.7,507.8 609.3,550.0 610.0,589.4 611.1,483.3 612.0,540.0 612.8,590.8 613.8,588.9 614.5,540.5 615.2,492.1 615.9,526.7 616.7,557.7 617.8,569.5 618.8,507.0 619.8,519.9 620.6,504.7 621.4,490.0 622.5,501.5 623.4,539.0 624.2,582.4 625.0,514.6 625.8,446.2 626.4,492.7 627.1,533.5 628.1,477.3 628.8,523.6 629.4,571.8 630.2,508.0 630.9,436.3 632.0,543.0 633.1,468.7 634.1,454.0 634.8,501.5 635.4,557.9 636.6,445.0 637.6,448.0 638.4,476.1 639.3,504.1 639.9,503.5 640.5,499.6 641.7,537.1 642.3,587.7 642.9,622.8 643.6,570.8 644.4,506.3 645.0,465.7 645.7,425.7 646.5,495.6 647.3,574.3 648.3,485.3 649.0,536.1 649.7,590.3 650.5,546.5 651.4,508.5 652.4,494.1 653.1,463.8 653.8,442.9 654.4,507.0 655.1,591.3 656.2,446.9 656.9,488.3 657.6,540.4 658.6,514.1 659.8,556.1 660.5,563.5 661.1,572.7 661.8,519.0 662.5,473.1 663.5,541.5 664.4,534.6 665.1,509.3 665.7,489.5 666.8,508.0 667.6,468.8 668.4,433.0 669.4,617.4 670.4,489.7 671.2,520.1 672.0,549.7 672.6,510.8 673.2,470.4 673.9,477.4 674.5,468.7 675.5,624.8 676.2,561.7 676.9,505.8 677.7,523.4 678.5,546.0 679.2,533.1 679.9,525.3" fill="none" stroke="#111" stroke-width="0.7200000000000001" stroke-dasharray="3 1 1 1 1 1" stroke-linejoin="round"/><polyline points="401.0,549.6 401.8,543.3 402.5,534.0 403.7,491.8 404.3,536.9 404.9,568.9 405.8,482.7 406.7,538.4 407.5,594.1 408.6,445.5 409.4,528.2 410.3,605.6 411.1,560.1 411.8,502.0 412.5,559.5 413.1,603.1 414.1,501.5 415.2,491.5 416.2,572.0 417.0,555.8 417.8,554.5 418.6,544.6 419.4,540.6 420.3,536.8 421.2,455.8 421.8,515.3 422.5,586.4 423.6,503.9 424.8,573.0 425.5,501.3 426.2,434.5 427.0,496.8 427.8,548.7 428.9,521.7 429.6,555.9 430.2,598.2 431.3,613.2 432.2,550.3 433.0,480.7 433.8,458.1 434.5,445.4 435.4,488.6 436.2,541.4 437.0,550.2 437.8,563.2 438.9,485.9 439.6,554.0 440.4,607.9 441.0,608.2 441.6,601.9 442.3,555.4 443.0,509.6 443.8,506.6 444.5,504.3 445.1,505.3 445.7,495.0 446.8,562.8 447.5,596.2 448.3,619.9 449.0,537.2 449.8,451.1 450.6,501.1 451.4,553.1 452.1,519.2 452.9,486.3 453.9,595.5 454.7,572.2 455.5,544.7 456.1,496.5 456.8,459.5 457.6,519.0 458.5,579.2 459.1,522.3 459.7,473.3 460.3,505.0 460.9,536.6 461.8,472.9 462.6,425.2 463.7,586.5 464.8,584.9 465.8,484.3 466.8,489.3 467.6,521.6 468.4,550.5 469.0,527.8 469.7,504.5 470.3,517.2 471.0,532.8 472.0,483.5 473.1,459.2 474.0,483.7 475.1,596.9 475.9,558.5 476.7,513.9 477.4,530.3 478.0,543.0 478.7,522.3 479.5,506.0 480.6,589.4 481.2,546.3 481.9,497.9 482.6,520.0 483.3,543.7 484.1,545.6 484.8,549.8 485.7,561.7 486.7,429.8 487.8,505.8 488.9,523.5 489.7,553.5 490.5,577.0 491.7,507.9 492.4,460.9 493.1,427.7 493.9,489.0 494.8,543.2 495.5,555.8 496.2,565.2 497.0,503.9 497.8,440.8 498.6,489.5 499.4,542.5 500.1,507.6 500.8,481.9 502.0,528.9 502.9,476.7 503.6,470.9 504.3,470.2 505.0,503.7 505.8,552.0 506.5,516.4 507.2,490.6 507.9,531.9 508.5,575.1 509.2,540.3 509.9,503.0 510.5,553.4 511.2,591.0 512.3,589.3 513.0,559.4 513.7,534.3 514.5,584.3 515.4,633.9 516.2,568.9 517.0,487.2 517.7,525.2 518.3,564.0 519.2,579.5 520.3,522.5 521.4,527.2 522.5,585.0 523.5,541.2 524.2,506.6 524.8,482.4 525.5,531.1 526.1,584.9 526.8,577.4 527.4,582.5 528.5,462.5 529.6,459.9 530.7,436.7 531.6,513.9 532.4,587.9 533.4,550.9 534.4,546.1 535.0,514.0 535.6,487.4 536.4,529.3 537.3,557.8 538.4,497.5 539.2,525.5 540.0,558.5 540.8,507.9 541.6,458.1 542.4,502.6 543.1,548.0 543.8,498.2 544.5,451.2 545.5,559.1 546.3,541.3 547.1,525.8 547.7,558.4 548.3,580.9 548.9,550.9 549.5,510.4 550.1,510.7 550.7,512.6 551.9,623.1 553.0,425.6 554.0,433.3 554.6,497.3 555.2,562.7 556.3,516.6 557.3,512.1 558.1,542.4 558.9,581.3 559.5,582.1 560.2,575.1 561.1,536.9 561.9,578.5 562.7,619.5 563.8,517.2 564.9,475.4 565.8,515.7 566.6,564.1 567.3,545.7 567.9,530.1 568.5,532.3 569.1,530.0 569.9,526.7 570.6,528.1 571.8,420.9 572.4,491.0 573.0,569.8 573.7,518.1 574.5,467.8 575.1,520.6 575.8,565.7 577.0,508.1 577.6,508.0 578.3,509.3 579.0,499.9 579.6,490.1 580.4,531.2 581.2,581.0 582.3,473.8 583.0,506.4 583.6,542.8 584.7,579.3 585.3,531.7 585.9,481.6 586.7,550.3 587.5,609.5 588.2,516.1 588.8,421.8 590.0,421.1 590.6,474.7 591.2,535.9 592.2,603.5 593.0,538.1 593.8,472.1 594.9,563.7 595.9,556.7 596.9,475.5 597.9,540.3 598.7,578.6 599.5,612.4 600.2,604.3 601.0,599.1 602.0,492.0 602.8,537.2 603.6,579.1 604.5,534.8 605.6,530.2 606.3,548.4 607.0,567.6 607.8,541.1 608.7,505.9 609.3,550.6 610.0,587.9 611.1,485.3 612.0,538.6 612.8,593.2 613.8,595.3 614.5,543.5 615.2,491.0 615.9,523.4 616.7,554.3 617.8,574.9 618.8,506.4 619.8,522.1 620.6,509.6 621.4,494.3 622.5,495.8 623.4,543.6 624.2,584.9 625.0,512.4 625.8,442.7 626.4,488.9 627.1,535.1 628.1,471.8 628.8,517.3 629.4,572.9 630.2,507.8 630.9,432.2 632.0,542.7 633.1,466.9 634.1,456.1 634.8,510.5 635.4,561.2 636.6,445.7 637.6,450.3 638.4,472.9 639.3,508.4 639.9,506.3 640.5,502.0 641.7,542.9 642.3,589.7 642.9,633.6 643.6,579.9 644.4,504.0 645.0,466.7 645.7,426.3 646.5,496.3 647.3,576.3 648.3,487.6 649.0,539.7 649.7,592.1 650.5,554.7 651.4,501.1 652.4,493.4 653.1,458.6 653.8,435.9 654.4,509.8 655.1,591.1 656.2,450.0 656.9,488.9 657.6,543.6 658.6,513.8 659.8,563.2 660.5,565.9 661.1,564.1 661.8,520.4 662.5,469.7 663.5,538.9 664.4,533.5 665.1,511.5 665.7,490.9 666.8,510.9 667.6,469.6 668.4,432.9 669.4,611.1 670.4,496.6 671.2,522.5 672.0,544.7 672.6,507.2 673.2,472.5 673.9,476.5 674.5,474.5 675.5,621.0 676.2,573.1 676.9,504.3 677.7,523.4 678.5,541.5 679.2,529.4 679.9,525.2" fill="none" stroke="#ff22ff" stroke-width="0.8" stroke-dasharray="1.6 1" stroke-linejoin="round"/><polyline points="401.0,549.7 401.8,544.7 402.5,533.9 403.7,494.0 404.3,530.8 404.9,569.6 405.8,486.6 406.7,543.0 407.5,582.6 408.6,460.1 409.4,525.1 410.3,597.5 411.1,554.2 411.8,504.9 412.5,551.6 413.1,603.4 414.1,507.6 415.2,497.6 416.2,573.8 417.0,561.6 417.8,556.6 418.6,545.9 419.4,538.9 420.3,534.4 421.2,452.6 421.8,518.4 422.5,578.2 423.6,509.4 424.8,572.6 425.5,506.6 426.2,435.9 427.0,491.2 427.8,555.9 428.9,521.7 429.6,557.0 430.2,606.8 431.3,616.6 432.2,552.1 433.0,489.0 433.8,471.8 434.5,460.4 435.4,500.0 436.2,541.6 437.0,547.3 437.8,552.4 438.9,495.5 439.6,546.9 440.4,611.1 441.0,607.2 441.6,601.3 442.3,553.9 443.0,508.4 443.8,505.5 444.5,503.6 445.1,506.1 445.7,498.7 446.8,564.5 447.5,599.4 448.3,631.8 449.0,536.9 449.8,445.6 450.6,500.4 451.4,555.3 452.1,520.8 452.9,484.6 453.9,600.1 454.7,574.6 455.5,540.0 456.1,495.9 456.8,465.6 457.6,522.2 458.5,575.1 459.1,525.5 459.7,475.9 460.3,509.2 460.9,534.5 461.8,475.3 462.6,425.7 463.7,588.7 464.8,588.8 465.8,487.5 466.8,486.9 467.6,517.8 468.4,547.5 469.0,527.1 469.7,501.3 470.3,519.0 471.0,534.1 472.0,483.5 473.1,456.4 474.0,482.4 475.1,597.7 475.9,554.3 476.7,514.3 477.4,527.9 478.0,540.3 478.7,524.0 479.5,509.0 480.6,589.5 481.2,544.9 481.9,504.2 482.6,517.8 483.3,539.3 484.1,547.7 484.8,544.8 485.7,565.5 486.7,437.3 487.8,511.8 488.9,524.9 489.7,555.2 490.5,593.8 491.7,496.4 492.4,461.6 493.1,427.8 493.9,485.9 494.8,545.4 495.5,558.0 496.2,567.5 497.0,499.8 497.8,436.3 498.6,486.6 499.4,543.6 500.1,508.2 500.8,474.6 502.0,528.6 502.9,477.7 503.6,471.8 504.3,468.6 505.0,506.4 505.8,553.2 506.5,520.1 507.2,488.3 507.9,528.6 508.5,574.1 509.2,536.9 509.9,504.8 510.5,550.4 511.2,587.8 512.3,583.7 513.0,557.8 513.7,532.7 514.5,588.6 515.4,637.7 516.2,563.8 517.0,490.5 517.7,527.6 518.3,570.9 519.2,579.5 520.3,523.5 521.4,532.0 522.5,578.3 523.5,541.8 524.2,507.5 524.8,474.3 525.5,529.6 526.1,577.3 526.8,580.5 527.4,581.3 528.5,463.3 529.6,455.4 530.7,440.1 531.6,516.4 532.4,594.8 533.4,551.3 534.4,541.8 535.0,518.7 535.6,490.3 536.4,526.5 537.3,562.9 538.4,496.8 539.2,529.8 540.0,555.5 540.8,504.8 541.6,457.8 542.4,501.4 543.1,550.2 543.8,503.9 544.5,451.6 545.5,550.7 546.3,540.1 547.1,525.4 547.7,555.6 548.3,583.6 548.9,553.6 549.5,513.4 550.1,514.6 550.7,511.1 551.9,612.4 553.0,426.1 554.0,447.4 554.6,502.3 555.2,557.1 556.3,515.7 557.3,512.5 558.1,536.3 558.9,570.1 559.5,575.3 560.2,573.4 561.1,534.7 561.9,575.8 562.7,605.9 563.8,518.8 564.9,468.4 565.8,513.3 566.6,558.4 567.3,546.1 567.9,528.7 568.5,530.7 569.1,528.4 569.9,530.9 570.6,525.9 571.8,435.6 572.4,497.1 573.0,561.3 573.7,522.0 574.5,469.9 575.1,524.0 575.8,569.2 577.0,509.8 577.6,507.9 578.3,506.3 579.0,498.9 579.6,493.3 580.4,531.4 581.2,571.5 582.3,474.3 583.0,506.9 583.6,537.4 584.7,567.1 585.3,529.9 585.9,487.9 586.7,547.2 587.5,608.5 588.2,511.6 588.8,421.4 590.0,427.0 590.6,476.0 591.2,536.7 592.2,608.1 593.0,545.5 593.8,470.8 594.9,568.6 595.9,556.9 596.9,471.7 597.9,541.6 598.7,573.4 599.5,602.5 600.2,593.1 601.0,590.3 602.0,492.0 602.8,532.9 603.6,571.8 604.5,532.4 605.6,532.0 606.3,550.6 607.0,565.6 607.8,536.6 608.7,509.4 609.3,554.6 610.0,594.6 611.1,479.3 612.0,539.9 612.8,595.0 613.8,593.6 614.5,543.6 615.2,490.5 615.9,524.4 616.7,556.4 617.8,564.2 618.8,503.7 619.8,518.6 620.6,506.0 621.4,482.1 622.5,490.0 623.4,544.7 624.2,589.5 625.0,514.0 625.8,443.1 626.4,486.2 627.1,536.2 628.1,477.5 628.8,526.5 629.4,573.5 630.2,508.0 630.9,433.4 632.0,542.4 633.1,471.5 634.1,458.8 634.8,507.9 635.4,557.3 636.6,447.4 637.6,460.9 638.4,488.4 639.3,509.3 639.9,505.1 640.5,499.7 641.7,539.2 642.3,582.5 642.9,621.0 643.6,570.7 644.4,515.7 645.0,465.4 645.7,429.2 646.5,503.1 647.3,573.5 648.3,493.7 649.0,537.0 649.7,584.0 650.5,546.7 651.4,516.1 652.4,504.7 653.1,467.6 653.8,435.0 654.4,511.0 655.1,591.7 656.2,449.6 656.9,500.2 657.6,542.7 658.6,514.2 659.8,554.2 660.5,561.3 661.1,560.8 661.8,522.5 662.5,479.4 663.5,539.7 664.4,535.6 665.1,510.8 665.7,497.6 666.8,508.1 667.6,466.3 668.4,437.1 669.4,612.9 670.4,492.3 671.2,515.6 672.0,542.2 672.6,510.2 673.2,479.2 673.9,474.8 674.5,482.3 675.5,612.4 676.2,563.3 676.9,509.6 677.7,523.9 678.5,541.9 679.2,531.3 679.9,524.0" fill="none" stroke="#2222ff" stroke-width="0.8" stroke-dasharray="3 2" stroke-linejoin="round"/><polyline points="401.0,548.7 401.8,541.2 402.5,533.8 403.7,494.9 404.3,530.3 404.9,566.1 405.8,488.4 406.7,538.8 407.5,587.7 408.6,455.9 409.4,526.1 410.3,596.6 411.1,554.2 411.8,509.8 412.5,551.8 413.1,593.7 414.1,506.4 415.2,497.8 416.2,569.7 417.0,559.5 417.8,551.7 418.6,545.8 419.4,539.8 420.3,534.5 421.2,463.6 421.8,519.4 422.5,575.3 423.6,509.8 424.8,569.7 425.5,506.6 426.2,444.0 427.0,497.3 427.8,551.7 428.9,520.1 429.6,558.6 430.2,597.1 431.3,605.6 432.2,548.5 433.0,490.7 433.8,471.5 434.5,453.9 435.4,496.3 436.2,539.8 437.0,548.0 437.8,557.7 438.9,494.9 439.6,548.7 440.4,602.6 441.0,596.6 441.6,591.5 442.3,551.2 443.0,511.1 443.8,508.7 444.5,506.2 445.1,504.3 445.7,500.4 446.8,560.7 447.5,590.7 448.3,623.6 449.0,539.1 449.8,455.9 450.6,502.3 451.4,548.7 452.1,521.7 452.9,494.9 453.9,587.7 454.7,563.8 455.5,539.8 456.1,505.4 456.8,470.9 457.6,520.2 458.5,569.7 459.1,526.0 459.7,479.9 460.3,509.7 460.9,535.3 461.8,485.9 462.6,435.0 463.7,581.3 464.8,581.7 465.8,491.9 466.8,493.7 467.6,520.5 468.4,547.9 469.0,527.6 469.7,506.2 470.3,519.6 471.0,532.8 472.0,491.9 473.1,464.9 474.0,489.4 475.1,587.7 475.9,552.0 476.7,515.8 477.4,527.7 478.0,539.8 478.7,524.8 479.5,509.8 480.6,581.7 481.2,543.2 481.9,504.7 482.6,522.7 483.3,541.0 484.1,544.3 484.8,546.7 485.7,560.7 486.7,441.0 487.8,508.8 488.9,524.8 489.7,551.9 490.5,579.4 491.7,503.8 492.4,471.0 493.1,438.0 493.9,490.8 494.8,545.7 495.5,554.2 496.2,563.7 497.0,506.8 497.8,449.9 498.6,494.8 499.4,539.8 500.1,512.3 500.8,484.9 502.0,528.9 502.9,485.9 503.6,481.9 504.3,479.9 505.0,512.6 505.8,545.7 506.5,521.6 507.2,497.8 507.9,530.5 508.5,563.7 509.2,536.8 509.9,509.8 510.5,545.9 511.2,581.7 512.3,575.5 513.0,553.6 513.7,531.7 514.5,579.9 515.4,625.5 516.2,559.3 517.0,494.9 517.7,526.8 518.3,558.6 519.2,569.7 520.3,524.8 521.4,528.7 522.5,578.7 523.5,539.8 524.2,511.2 524.8,482.9 525.5,529.3 526.1,575.7 526.8,575.1 527.4,575.0 528.5,471.3 529.6,467.9 530.7,446.9 531.6,517.5 532.4,587.7 533.4,549.3 534.4,539.8 535.0,517.4 535.6,494.9 536.4,527.6 537.3,560.7 538.4,503.8 539.2,527.8 540.0,551.7 540.8,509.5 541.6,467.9 542.4,507.3 543.1,545.7 543.8,504.5 544.5,461.9 545.5,551.7 546.3,538.9 547.1,524.8 547.7,554.8 548.3,584.0 548.9,549.5 549.5,514.5 550.1,513.4 550.7,512.8 551.9,611.6 553.0,432.0 554.0,443.5 554.6,501.4 555.2,557.7 556.3,518.8 557.3,515.8 558.1,542.8 558.9,569.7 559.5,571.0 560.2,568.3 561.1,533.8 561.9,573.0 562.7,614.6 563.8,518.8 564.9,479.9 565.8,517.3 566.6,554.7 567.3,541.1 567.9,527.8 568.5,528.7 569.1,528.7 569.9,527.9 570.6,527.3 571.8,432.0 572.4,496.3 573.0,560.7 573.7,520.5 574.5,479.9 575.1,521.9 575.8,563.7 577.0,509.8 577.6,507.9 578.3,507.4 579.0,499.7 579.6,492.5 580.4,532.1 581.2,576.4 582.3,478.3 583.0,509.2 583.6,539.8 584.7,569.7 585.3,531.8 585.9,491.9 586.7,544.8 587.5,599.6 588.2,515.5 588.8,432.0 590.0,435.7 590.6,484.7 591.2,533.8 592.2,599.6 593.0,539.7 593.8,479.9 594.9,563.7 595.9,553.2 596.9,479.9 597.9,539.8 598.7,570.5 599.5,599.6 600.2,592.1 601.0,587.7 602.0,497.8 602.8,533.4 603.6,569.7 604.5,531.3 605.6,530.8 606.3,545.8 607.0,560.7 607.8,536.0 608.7,509.8 609.3,546.5 610.0,584.7 611.1,488.9 612.0,538.6 612.8,587.7 613.8,584.7 614.5,540.5 615.2,496.4 615.9,523.7 616.7,553.5 617.8,563.7 618.8,509.8 619.8,522.3 620.6,508.5 621.4,494.9 622.5,500.3 623.4,540.6 624.2,581.7 625.0,516.8 625.8,451.6 626.4,493.8 627.1,534.8 628.1,479.9 628.8,524.4 629.4,569.7 630.2,509.1 630.9,444.0 632.0,539.8 633.1,476.1 634.1,464.9 634.8,510.4 635.4,554.7 636.6,455.9 637.6,458.2 638.4,484.5 639.3,509.6 639.9,506.4 640.5,503.2 641.7,539.8 642.3,581.7 642.9,623.6 643.6,568.2 644.4,509.8 645.0,475.3 645.7,438.0 646.5,503.6 647.3,569.7 648.3,494.9 649.0,536.8 649.7,581.5 650.5,545.9 651.4,509.8 652.4,501.9 653.1,473.3 653.8,447.2 654.4,514.4 655.1,581.7 656.2,458.9 656.9,499.2 657.6,539.8 658.6,515.1 659.8,556.4 660.5,560.6 661.1,563.7 661.8,521.7 662.5,479.9 663.5,539.8 664.4,533.5 665.1,514.1 665.7,494.9 666.8,509.8 667.6,477.2 668.4,444.0 669.4,605.6 670.4,496.2 671.2,520.1 672.0,544.1 672.6,512.8 673.2,482.7 673.9,481.3 674.5,479.9 675.5,611.6 676.2,559.7 676.9,509.8 677.7,524.6 678.5,539.8 679.2,532.0 679.9,524.8" fill="none" stroke="#f38c32" stroke-width="1.0" stroke-linejoin="round"/></g>
<line x1="44.50" y1="239.33" x2="50.10" y2="239.33" stroke="#676767" stroke-width="1.2"/>
<line x1="44.50" y1="192.67" x2="50.10" y2="192.67" stroke="#676767" stroke-width="1.2"/>
<line x1="44.50" y1="146.00" x2="50.10" y2="146.00" stroke="#676767" stroke-width="1.2"/>
<line x1="44.50" y1="99.33" x2="50.10" y2="99.33" stroke="#676767" stroke-width="1.2"/>
<line x1="44.50" y1="52.67" x2="50.10" y2="52.67" stroke="#676767" stroke-width="1.2"/>
<line x1="84.50" y1="286.00" x2="84.50" y2="282.20" stroke="#676767" stroke-width="1.2"/>
<line x1="124.50" y1="286.00" x2="124.50" y2="282.20" stroke="#676767" stroke-width="1.2"/>
<line x1="164.50" y1="286.00" x2="164.50" y2="282.20" stroke="#676767" stroke-width="1.2"/>
<line x1="204.50" y1="286.00" x2="204.50" y2="282.20" stroke="#676767" stroke-width="1.2"/>
<line x1="244.50" y1="286.00" x2="244.50" y2="282.20" stroke="#676767" stroke-width="1.2"/>
<line x1="284.50" y1="286.00" x2="284.50" y2="282.20" stroke="#676767" stroke-width="1.2"/>
<rect x="44.50" y="6.00" width="280.00" height="280.00" fill="none" stroke="#676767" stroke-width="1.4"/>
<text x="39.90" y="289.70" text-anchor="end" class="tk tn">-60</text>
<text x="39.90" y="243.03" text-anchor="end" class="tk tn">-40</text>
<text x="39.90" y="196.37" text-anchor="end" class="tk tn">-20</text>
<text x="39.90" y="149.70" text-anchor="end" class="tk tn">0</text>
<text x="39.90" y="103.03" text-anchor="end" class="tk tn">20</text>
<text x="39.90" y="56.37" text-anchor="end" class="tk tn">40</text>
<text x="39.90" y="9.70" text-anchor="end" class="tk tn">60</text>
<text x="44.50" y="300.40" text-anchor="middle" class="tk tn">0</text>
<text x="84.50" y="300.40" text-anchor="middle" class="tk tn">1</text>
<text x="124.50" y="300.40" text-anchor="middle" class="tk tn">2</text>
<text x="164.50" y="300.40" text-anchor="middle" class="tk tn">3</text>
<text x="204.50" y="300.40" text-anchor="middle" class="tk tn">4</text>
<text x="244.50" y="300.40" text-anchor="middle" class="tk tn">5</text>
<text x="284.50" y="300.40" text-anchor="middle" class="tk tn">6</text>
<text x="324.50" y="300.40" text-anchor="middle" class="tk tn">7</text>
<text x="184.50" y="314.20" text-anchor="middle" class="tk">Time (s)</text>
<text transform="translate(20.50,146.00) rotate(-90)" text-anchor="middle" class="tk">Random road excitation (mm)</text>
<text x="173.70" y="344.20" text-anchor="middle" class="lab">(<tspan dy="1.6" font-size="17.3">a</tspan><tspan dy="-1.6">)</tspan></text>
<line x1="401.50" y1="239.00" x2="407.10" y2="239.00" stroke="#676767" stroke-width="1.2"/>
<line x1="401.50" y1="192.40" x2="407.10" y2="192.40" stroke="#676767" stroke-width="1.2"/>
<line x1="401.50" y1="145.80" x2="407.10" y2="145.80" stroke="#676767" stroke-width="1.2"/>
<line x1="401.50" y1="99.20" x2="407.10" y2="99.20" stroke="#676767" stroke-width="1.2"/>
<line x1="401.50" y1="52.60" x2="407.10" y2="52.60" stroke="#676767" stroke-width="1.2"/>
<line x1="441.43" y1="285.60" x2="441.43" y2="281.80" stroke="#676767" stroke-width="1.2"/>
<line x1="481.36" y1="285.60" x2="481.36" y2="281.80" stroke="#676767" stroke-width="1.2"/>
<line x1="521.29" y1="285.60" x2="521.29" y2="281.80" stroke="#676767" stroke-width="1.2"/>
<line x1="561.21" y1="285.60" x2="561.21" y2="281.80" stroke="#676767" stroke-width="1.2"/>
<line x1="601.14" y1="285.60" x2="601.14" y2="281.80" stroke="#676767" stroke-width="1.2"/>
<line x1="641.07" y1="285.60" x2="641.07" y2="281.80" stroke="#676767" stroke-width="1.2"/>
<rect x="401.50" y="6.00" width="279.50" height="279.60" fill="none" stroke="#676767" stroke-width="1.4"/>
<text x="396.90" y="289.30" text-anchor="end" class="tk tn">-3</text>
<text x="396.90" y="242.70" text-anchor="end" class="tk tn">-2</text>
<text x="396.90" y="196.10" text-anchor="end" class="tk tn">-1</text>
<text x="396.90" y="149.50" text-anchor="end" class="tk tn">0</text>
<text x="396.90" y="102.90" text-anchor="end" class="tk tn">1</text>
<text x="396.90" y="56.30" text-anchor="end" class="tk tn">2</text>
<text x="396.90" y="9.70" text-anchor="end" class="tk tn">3</text>
<text x="401.50" y="300.00" text-anchor="middle" class="tk tn">0</text>
<text x="441.43" y="300.00" text-anchor="middle" class="tk tn">1</text>
<text x="481.36" y="300.00" text-anchor="middle" class="tk tn">2</text>
<text x="521.29" y="300.00" text-anchor="middle" class="tk tn">3</text>
<text x="561.21" y="300.00" text-anchor="middle" class="tk tn">4</text>
<text x="601.14" y="300.00" text-anchor="middle" class="tk tn">5</text>
<text x="641.07" y="300.00" text-anchor="middle" class="tk tn">6</text>
<text x="681.00" y="300.00" text-anchor="middle" class="tk tn">7</text>
<text x="541.25" y="313.80" text-anchor="middle" class="tk">Time (s)</text>
<text transform="translate(377.50,145.80) rotate(-90)" text-anchor="middle" class="tk">Sprung mass acceleration (m/s<tspan dy="-4" font-size="8">2</tspan><tspan dy="4">)</tspan></text>
<text x="541.70" y="343.80" text-anchor="middle" class="lab">(<tspan dy="1.6" font-size="17.3">b</tspan><tspan dy="-1.6">)</tspan></text>
<line x1="410.60" y1="31.20" x2="433.80" y2="31.20" stroke="#22e022" stroke-width="1.3" stroke-dasharray="5 2 1 2"/>
<text x="435.60" y="34.60" class="lg">Passive</text>
<line x1="471.80" y1="31.20" x2="494.00" y2="31.20" stroke="#111111" stroke-width="1.2" stroke-dasharray="4 1.6 1 1.6 1 1.6"/>
<text x="495.80" y="34.60" class="lg">PID</text>
<line x1="519.60" y1="31.20" x2="542.60" y2="31.20" stroke="#ff22ff" stroke-width="1.3" stroke-dasharray="2 1.3"/>
<text x="544.40" y="34.60" class="lg">LQR</text>
<line x1="570.90" y1="31.20" x2="591.00" y2="31.20" stroke="#4444ff" stroke-width="1.6" stroke-dasharray="4.3 3.6"/>
<path transform="translate(595.10,34.80)" d="M1.2,-5.5 C1.8,-6.8 3.4,-7.1 3.9,-6.5 C3.3,-4.2 2.7,-2 1.9,-0.7 C1.4,0 0.6,0.1 0.2,-0.4 M2.5,-3.3 C4,-3.5 5.2,-3.6 6.7,-3.9 M8.7,-7.3 C7.5,-6.9 6.7,-4 6.1,-1.3 C5.9,-0.2 6.5,0.1 7.1,-0.3" fill="none" stroke="#222" stroke-width="0.95" stroke-linecap="round"/><text x="602.30" y="36.70" font-family="Liberation Serif" font-size="7" fill="#222">∞</text>
<line x1="614.10" y1="31.20" x2="636.80" y2="31.20" stroke="#f5a050" stroke-width="1.8"/>
<text x="638.60" y="34.60" class="lg" textLength="20.6" lengthAdjust="spacingAndGlyphs">LPV-</text>
<path transform="translate(659.60,34.80)" d="M1.2,-5.5 C1.8,-6.8 3.4,-7.1 3.9,-6.5 C3.3,-4.2 2.7,-2 1.9,-0.7 C1.4,0 0.6,0.1 0.2,-0.4 M2.5,-3.3 C4,-3.5 5.2,-3.6 6.7,-3.9 M8.7,-7.3 C7.5,-6.9 6.7,-4 6.1,-1.3 C5.9,-0.2 6.5,0.1 7.1,-0.3" fill="none" stroke="#222" stroke-width="0.95" stroke-linecap="round"/><text x="666.80" y="36.70" font-family="Liberation Serif" font-size="7" fill="#222">∞</text>
<line x1="34.00" y1="624.03" x2="39.60" y2="624.03" stroke="#676767" stroke-width="1.2"/>
<line x1="34.00" y1="577.47" x2="39.60" y2="577.47" stroke="#676767" stroke-width="1.2"/>
<line x1="34.00" y1="530.90" x2="39.60" y2="530.90" stroke="#676767" stroke-width="1.2"/>
<line x1="34.00" y1="484.33" x2="39.60" y2="484.33" stroke="#676767" stroke-width="1.2"/>
<line x1="34.00" y1="437.77" x2="39.60" y2="437.77" stroke="#676767" stroke-width="1.2"/>
<line x1="73.96" y1="670.60" x2="73.96" y2="666.80" stroke="#676767" stroke-width="1.2"/>
<line x1="113.91" y1="670.60" x2="113.91" y2="666.80" stroke="#676767" stroke-width="1.2"/>
<line x1="153.87" y1="670.60" x2="153.87" y2="666.80" stroke="#676767" stroke-width="1.2"/>
<line x1="193.83" y1="670.60" x2="193.83" y2="666.80" stroke="#676767" stroke-width="1.2"/>
<line x1="233.79" y1="670.60" x2="233.79" y2="666.80" stroke="#676767" stroke-width="1.2"/>
<line x1="273.74" y1="670.60" x2="273.74" y2="666.80" stroke="#676767" stroke-width="1.2"/>
<rect x="34.00" y="391.20" width="279.70" height="279.40" fill="none" stroke="#676767" stroke-width="1.4"/>
<text x="29.40" y="674.30" text-anchor="end" class="tk tn">-30</text>
<text x="29.40" y="627.73" text-anchor="end" class="tk tn">-20</text>
<text x="29.40" y="581.17" text-anchor="end" class="tk tn">-10</text>
<text x="29.40" y="534.60" text-anchor="end" class="tk tn">0</text>
<text x="29.40" y="488.03" text-anchor="end" class="tk tn">10</text>
<text x="29.40" y="441.47" text-anchor="end" class="tk tn">20</text>
<text x="29.40" y="394.90" text-anchor="end" class="tk tn">30</text>
<text x="34.00" y="685.00" text-anchor="middle" class="tk tn">0</text>
<text x="73.96" y="685.00" text-anchor="middle" class="tk tn">1</text>
<text x="113.91" y="685.00" text-anchor="middle" class="tk tn">2</text>
<text x="153.87" y="685.00" text-anchor="middle" class="tk tn">3</text>
<text x="193.83" y="685.00" text-anchor="middle" class="tk tn">4</text>
<text x="233.79" y="685.00" text-anchor="middle" class="tk tn">5</text>
<text x="273.74" y="685.00" text-anchor="middle" class="tk tn">6</text>
<text x="313.70" y="685.00" text-anchor="middle" class="tk tn">7</text>
<text x="173.85" y="698.80" text-anchor="middle" class="tk">Time (s)</text>
<text transform="translate(10.00,530.90) rotate(-90)" text-anchor="middle" class="tk">Suspension working space (mm)</text>
<text x="173.70" y="728.80" text-anchor="middle" class="lab">(<tspan dy="1.6" font-size="17.3">c</tspan><tspan dy="-1.6">)</tspan></text>
<line x1="43.10" y1="410.30" x2="66.30" y2="410.30" stroke="#22e022" stroke-width="1.3" stroke-dasharray="5 2 1 2"/>
<text x="68.10" y="413.70" class="lg">Passive</text>
<line x1="104.30" y1="410.30" x2="126.50" y2="410.30" stroke="#111111" stroke-width="1.2" stroke-dasharray="4 1.6 1 1.6 1 1.6"/>
<text x="128.30" y="413.70" class="lg">PID</text>
<line x1="152.10" y1="410.30" x2="175.10" y2="410.30" stroke="#ff22ff" stroke-width="1.3" stroke-dasharray="2 1.3"/>
<text x="176.90" y="413.70" class="lg">LQR</text>
<line x1="203.40" y1="410.30" x2="223.50" y2="410.30" stroke="#4444ff" stroke-width="1.6" stroke-dasharray="4.3 3.6"/>
<path transform="translate(227.60,413.90)" d="M1.2,-5.5 C1.8,-6.8 3.4,-7.1 3.9,-6.5 C3.3,-4.2 2.7,-2 1.9,-0.7 C1.4,0 0.6,0.1 0.2,-0.4 M2.5,-3.3 C4,-3.5 5.2,-3.6 6.7,-3.9 M8.7,-7.3 C7.5,-6.9 6.7,-4 6.1,-1.3 C5.9,-0.2 6.5,0.1 7.1,-0.3" fill="none" stroke="#222" stroke-width="0.95" stroke-linecap="round"/><text x="234.80" y="415.80" font-family="Liberation Serif" font-size="7" fill="#222">∞</text>
<line x1="246.60" y1="410.30" x2="269.30" y2="410.30" stroke="#f5a050" stroke-width="1.8"/>
<text x="271.10" y="413.70" class="lg" textLength="20.6" lengthAdjust="spacingAndGlyphs">LPV-</text>
<path transform="translate(292.10,413.90)" d="M1.2,-5.5 C1.8,-6.8 3.4,-7.1 3.9,-6.5 C3.3,-4.2 2.7,-2 1.9,-0.7 C1.4,0 0.6,0.1 0.2,-0.4 M2.5,-3.3 C4,-3.5 5.2,-3.6 6.7,-3.9 M8.7,-7.3 C7.5,-6.9 6.7,-4 6.1,-1.3 C5.9,-0.2 6.5,0.1 7.1,-0.3" fill="none" stroke="#222" stroke-width="0.95" stroke-linecap="round"/><text x="299.30" y="415.80" font-family="Liberation Serif" font-size="7" fill="#222">∞</text>
<line x1="401.30" y1="624.03" x2="406.90" y2="624.03" stroke="#676767" stroke-width="1.2"/>
<line x1="401.30" y1="577.47" x2="406.90" y2="577.47" stroke="#676767" stroke-width="1.2"/>
<line x1="401.30" y1="530.90" x2="406.90" y2="530.90" stroke="#676767" stroke-width="1.2"/>
<line x1="401.30" y1="484.33" x2="406.90" y2="484.33" stroke="#676767" stroke-width="1.2"/>
<line x1="401.30" y1="437.77" x2="406.90" y2="437.77" stroke="#676767" stroke-width="1.2"/>
<line x1="441.26" y1="670.60" x2="441.26" y2="666.80" stroke="#676767" stroke-width="1.2"/>
<line x1="481.21" y1="670.60" x2="481.21" y2="666.80" stroke="#676767" stroke-width="1.2"/>
<line x1="521.17" y1="670.60" x2="521.17" y2="666.80" stroke="#676767" stroke-width="1.2"/>
<line x1="561.13" y1="670.60" x2="561.13" y2="666.80" stroke="#676767" stroke-width="1.2"/>
<line x1="601.09" y1="670.60" x2="601.09" y2="666.80" stroke="#676767" stroke-width="1.2"/>
<line x1="641.04" y1="670.60" x2="641.04" y2="666.80" stroke="#676767" stroke-width="1.2"/>
<rect x="401.30" y="391.20" width="279.70" height="279.40" fill="none" stroke="#676767" stroke-width="1.4"/>
<text x="396.70" y="674.30" text-anchor="end" class="tk tn">-6</text>
<text x="396.70" y="627.73" text-anchor="end" class="tk tn">-4</text>
<text x="396.70" y="581.17" text-anchor="end" class="tk tn">-2</text>
<text x="396.70" y="534.60" text-anchor="end" class="tk tn">0</text>
<text x="396.70" y="488.03" text-anchor="end" class="tk tn">2</text>
<text x="396.70" y="441.47" text-anchor="end" class="tk tn">4</text>
<text x="396.70" y="394.90" text-anchor="end" class="tk tn">6</text>
<text x="401.30" y="685.00" text-anchor="middle" class="tk tn">0</text>
<text x="441.26" y="685.00" text-anchor="middle" class="tk tn">1</text>
<text x="481.21" y="685.00" text-anchor="middle" class="tk tn">2</text>
<text x="521.17" y="685.00" text-anchor="middle" class="tk tn">3</text>
<text x="561.13" y="685.00" text-anchor="middle" class="tk tn">4</text>
<text x="601.09" y="685.00" text-anchor="middle" class="tk tn">5</text>
<text x="641.04" y="685.00" text-anchor="middle" class="tk tn">6</text>
<text x="681.00" y="685.00" text-anchor="middle" class="tk tn">7</text>
<text x="541.15" y="698.80" text-anchor="middle" class="tk">Time (s)</text>
<text transform="translate(377.30,530.90) rotate(-90)" text-anchor="middle" class="tk">Dynamic tire deformation (mm)</text>
<text x="541.70" y="728.80" text-anchor="middle" class="lab">(<tspan dy="1.6" font-size="17.3">d</tspan><tspan dy="-1.6">)</tspan></text>
<line x1="410.40" y1="410.30" x2="433.60" y2="410.30" stroke="#22e022" stroke-width="1.3" stroke-dasharray="5 2 1 2"/>
<text x="435.40" y="413.70" class="lg">Passive</text>
<line x1="471.60" y1="410.30" x2="493.80" y2="410.30" stroke="#111111" stroke-width="1.2" stroke-dasharray="4 1.6 1 1.6 1 1.6"/>
<text x="495.60" y="413.70" class="lg">PID</text>
<line x1="519.40" y1="410.30" x2="542.40" y2="410.30" stroke="#ff22ff" stroke-width="1.3" stroke-dasharray="2 1.3"/>
<text x="544.20" y="413.70" class="lg">LQR</text>
<line x1="570.70" y1="410.30" x2="590.80" y2="410.30" stroke="#4444ff" stroke-width="1.6" stroke-dasharray="4.3 3.6"/>
<path transform="translate(594.90,413.90)" d="M1.2,-5.5 C1.8,-6.8 3.4,-7.1 3.9,-6.5 C3.3,-4.2 2.7,-2 1.9,-0.7 C1.4,0 0.6,0.1 0.2,-0.4 M2.5,-3.3 C4,-3.5 5.2,-3.6 6.7,-3.9 M8.7,-7.3 C7.5,-6.9 6.7,-4 6.1,-1.3 C5.9,-0.2 6.5,0.1 7.1,-0.3" fill="none" stroke="#222" stroke-width="0.95" stroke-linecap="round"/><text x="602.10" y="415.80" font-family="Liberation Serif" font-size="7" fill="#222">∞</text>
<line x1="613.90" y1="410.30" x2="636.60" y2="410.30" stroke="#f5a050" stroke-width="1.8"/>
<text x="638.40" y="413.70" class="lg" textLength="20.6" lengthAdjust="spacingAndGlyphs">LPV-</text>
<path transform="translate(659.40,413.90)" d="M1.2,-5.5 C1.8,-6.8 3.4,-7.1 3.9,-6.5 C3.3,-4.2 2.7,-2 1.9,-0.7 C1.4,0 0.6,0.1 0.2,-0.4 M2.5,-3.3 C4,-3.5 5.2,-3.6 6.7,-3.9 M8.7,-7.3 C7.5,-6.9 6.7,-4 6.1,-1.3 C5.9,-0.2 6.5,0.1 7.1,-0.3" fill="none" stroke="#222" stroke-width="0.95" stroke-linecap="round"/><text x="666.60" y="415.80" font-family="Liberation Serif" font-size="7" fill="#222">∞</text>
</svg>
</body></html>
